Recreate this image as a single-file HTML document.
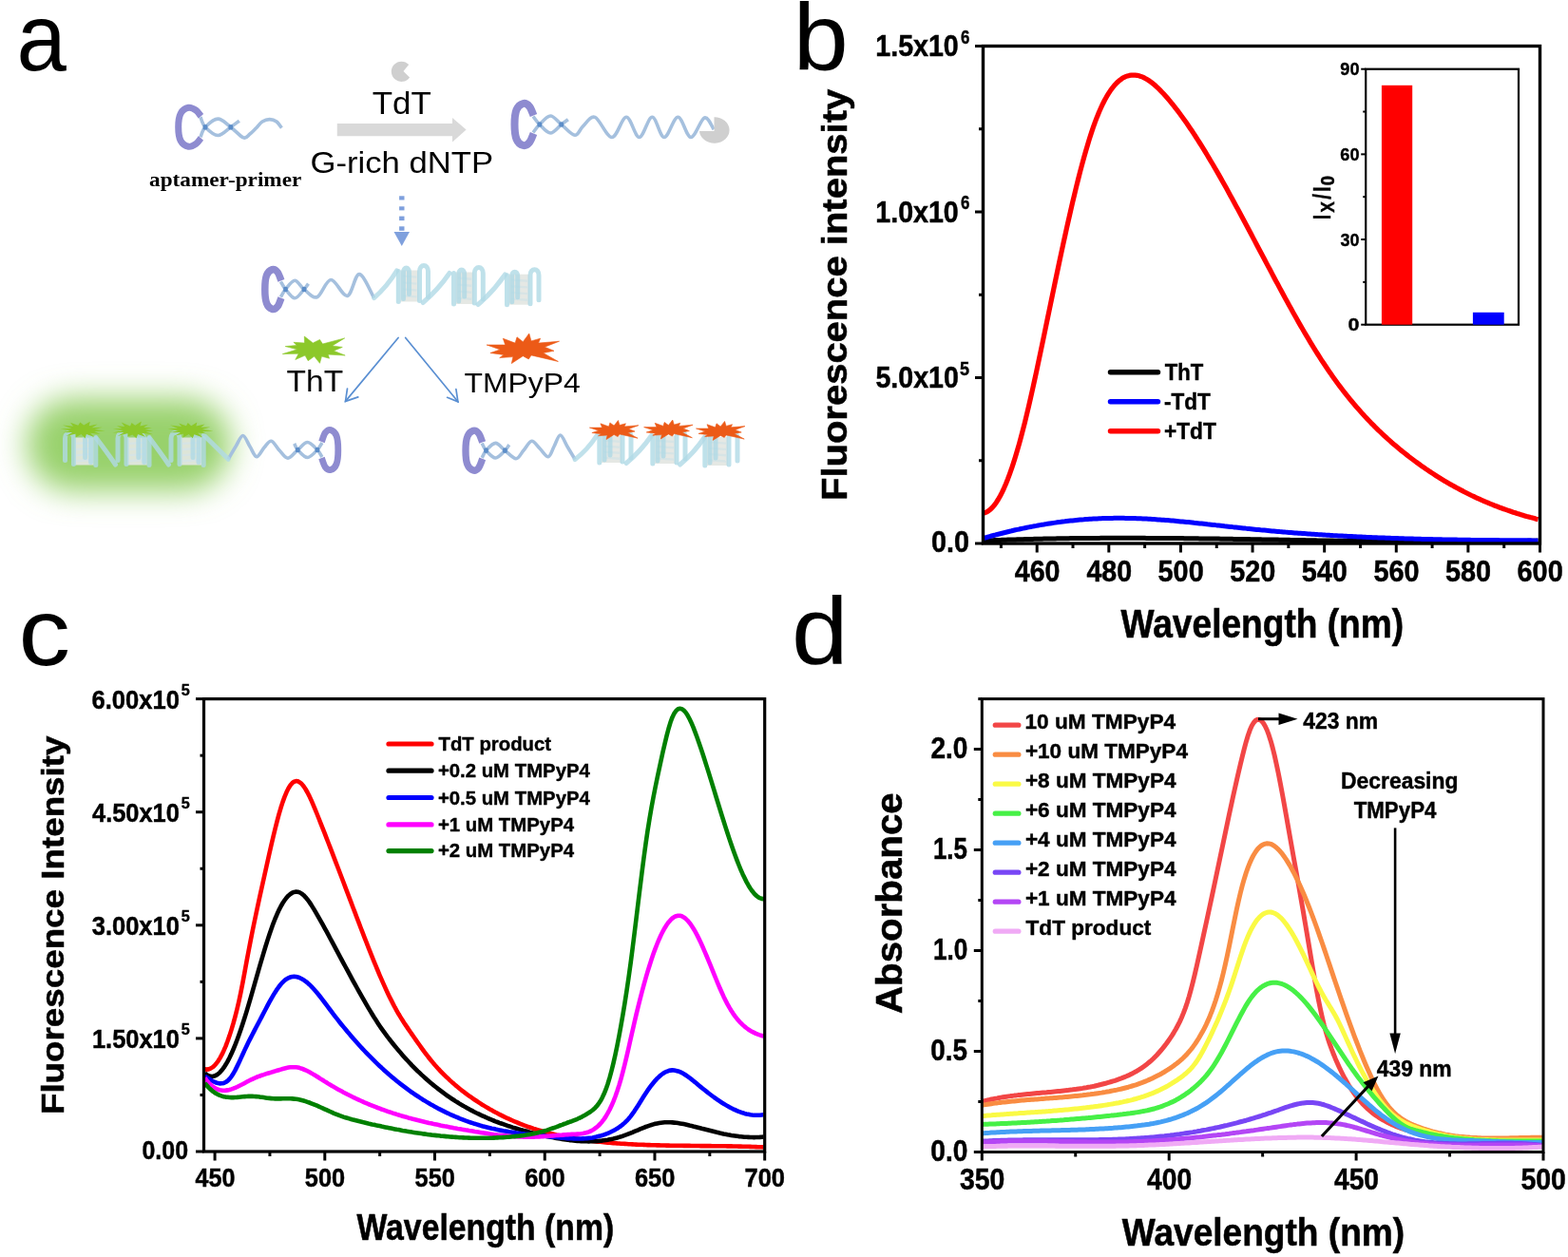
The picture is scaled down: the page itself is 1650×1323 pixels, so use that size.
<!DOCTYPE html>
<html><head><meta charset="utf-8"><title>Figure</title>
<style>html,body{margin:0;padding:0;background:#fff;} svg{display:block;}</style></head>
<body><svg width="1650" height="1323" viewBox="0 0 1650 1323">
<rect width="1650" height="1323" fill="#fff"/>
<defs><filter id="blurg" filterUnits="userSpaceOnUse" x="-60" y="340" width="400" height="260"><feGaussianBlur stdDeviation="16"/></filter></defs>
<rect x="28" y="419" width="215" height="98" rx="49" fill="#98d16c" filter="url(#blurg)"/>
<text x="17.43" y="73.50" font-family='"Liberation Sans", Arial, sans-serif' font-weight="normal" font-size="99.50" fill="#000" textLength="52.38" lengthAdjust="spacingAndGlyphs">a</text>
<path d="M211.5,122.3 C210.6,121.3 208.4,117.7 206.3,116.2 C204.1,114.7 201.1,112.8 198.4,113.3 C195.7,113.8 191.9,116.0 190.1,119.5 C188.3,122.9 187.7,129.0 187.7,133.8 C187.7,138.6 188.3,144.7 190.1,148.2 C191.9,151.6 195.7,153.8 198.4,154.3 C201.1,154.8 204.1,152.9 206.3,151.4 C208.4,149.9 210.6,146.3 211.5,145.3" fill="none" stroke="#8e8bd0" stroke-width="7" stroke-linecap="butt"/>
<path d="M211.0,144.3 C211.8,142.6 212.9,137.0 216.0,133.8 C219.1,130.6 224.9,125.1 229.4,125.1 C233.9,125.1 238.3,130.5 242.8,133.8 C247.3,137.1 252.8,143.7 256.2,144.9 C259.6,146.1 260.8,142.7 263.0,141.0 C265.2,139.3 267.4,136.9 269.6,134.7 C271.8,132.5 273.6,129.5 276.0,128.0 C278.4,126.5 281.2,125.6 283.7,125.6 C286.2,125.6 288.9,126.5 291.0,128.0 C293.1,129.5 295.5,133.6 296.4,134.7" fill="none" stroke="#a5c0de" stroke-width="3.6" stroke-linecap="butt" stroke-linejoin="round" opacity="1"/>
<path d="M211.0,123.3 C211.8,125.1 212.9,130.6 216.0,133.8 C219.1,137.0 224.9,142.5 229.4,142.5 C233.9,142.5 239.1,136.4 242.8,133.8 C246.5,131.2 250.3,128.3 251.8,127.2" fill="none" stroke="#a5c0de" stroke-width="3.6" stroke-linecap="butt" stroke-linejoin="round" opacity="1"/>
<rect x="213.7" y="131.2" width="4.6" height="5.2" rx="1.2" fill="#4f84c4" opacity="0.85"/>
<rect x="240.5" y="131.2" width="4.6" height="5.2" rx="1.2" fill="#4f84c4" opacity="0.85"/>
<text x="157.10" y="195.50" font-family='"Liberation Serif", "Times New Roman", serif' font-weight="bold" font-size="21.50" fill="#000" textLength="160.15" lengthAdjust="spacingAndGlyphs">aptamer-primer</text>
<path d="M424.5,75 L430.2,68.1 A10.6,10.6 0 1 0 431.1,81.4 Z" fill="#cfcfcf"/>
<text x="391.70" y="119.80" font-family='"Liberation Sans", Arial, sans-serif' font-weight="normal" font-size="32.60" fill="#000" textLength="62.10" lengthAdjust="spacingAndGlyphs">TdT</text>
<polygon points="354.8,130 476,130 476,124 490.6,136.6 476,149.4 476,143.3 354.8,143.3" fill="#d9d9d9"/>
<text x="326.47" y="182.10" font-family='"Liberation Sans", Arial, sans-serif' font-weight="normal" font-size="31.60" fill="#000" textLength="192.61" lengthAdjust="spacingAndGlyphs">G-rich dNTP</text>
<path d="M561.5,121.5 C560.8,119.9 558.9,114.2 557.1,112.1 C555.3,110.0 552.8,108.4 550.5,109.0 C548.2,109.6 545.0,111.9 543.5,115.6 C542.0,119.3 541.5,125.9 541.5,131.0 C541.5,136.1 542.0,142.7 543.5,146.4 C545.0,150.1 548.2,152.4 550.5,153.0 C552.8,153.6 555.3,152.0 557.1,149.9 C558.9,147.8 560.8,142.1 561.5,140.5" fill="none" stroke="#8e8bd0" stroke-width="8" stroke-linecap="butt"/>
<path d="M561.0,139.5 C562.1,138.1 564.8,133.9 567.8,131.0 C570.8,128.1 575.4,122.0 579.2,122.0 C583.1,122.0 586.4,127.6 590.7,131.0 C595.0,134.4 601.1,142.0 604.9,142.3 C608.7,142.6 610.0,136.0 613.5,132.8 C617.0,129.7 621.0,121.5 626.1,123.4 C631.2,125.4 638.4,144.5 643.9,144.5 C649.4,144.5 654.3,123.3 659.1,123.3 C663.9,123.3 668.2,144.5 672.7,144.5 C677.2,144.5 681.9,123.3 686.3,123.3 C690.7,123.3 694.5,144.5 699.0,144.5 C703.5,144.5 708.7,123.3 713.4,123.3 C718.1,123.3 722.4,144.4 727.0,144.5 C731.6,144.6 737.3,125.4 741.3,124.0 C745.3,122.6 749.5,134.1 751.1,136.1" fill="none" stroke="#a5c0de" stroke-width="3.6" stroke-linecap="butt" stroke-linejoin="round" opacity="1"/>
<path d="M561.0,122.5 C562.1,123.9 564.8,128.1 567.8,131.0 C570.8,133.9 575.4,140.0 579.2,140.0 C583.1,140.0 587.6,133.4 590.7,131.0 C593.8,128.6 596.6,126.6 597.8,125.7" fill="none" stroke="#a5c0de" stroke-width="3.6" stroke-linecap="butt" stroke-linejoin="round" opacity="1"/>
<rect x="565.5" y="128.4" width="4.6" height="5.2" rx="1.2" fill="#4f84c4" opacity="0.85"/>
<rect x="588.4" y="128.4" width="4.6" height="5.2" rx="1.2" fill="#4f84c4" opacity="0.85"/>
<path d="M751.5,138 L736,138 A15.8,13.8 0 1 0 751.5,123.2 Z" fill="#cfcfcf"/>
<rect x="420.1" y="206.3" width="5.4" height="4.2" fill="#7fa0dd"/>
<rect x="420.1" y="217.3" width="5.4" height="4.1" fill="#7fa0dd"/>
<rect x="420.1" y="227.6" width="5.4" height="4.5" fill="#7fa0dd"/>
<rect x="420.1" y="238.3" width="5.4" height="4.5" fill="#7fa0dd"/>
<polygon points="414.5,244 431,244 422.8,258.9" fill="#7fa0dd"/>
<path d="M295.9,295.4 C295.3,293.9 293.7,288.5 292.1,286.5 C290.6,284.6 288.4,283.0 286.5,283.6 C284.6,284.2 281.8,286.4 280.5,289.9 C279.2,293.4 278.8,299.6 278.8,304.5 C278.8,309.4 279.2,315.6 280.5,319.1 C281.8,322.6 284.6,324.8 286.5,325.4 C288.4,326.0 290.6,324.4 292.1,322.5 C293.7,320.5 295.3,315.1 295.9,313.6" fill="none" stroke="#8e8bd0" stroke-width="7.5" stroke-linecap="butt"/>
<path d="M295.4,312.6 C296.2,311.2 298.0,307.4 300.5,304.5 C303.0,301.6 307.0,295.2 310.2,295.2 C313.5,295.2 316.1,301.6 320.0,304.5 C323.9,307.4 328.9,314.4 333.6,312.7 C338.3,311.0 342.9,294.7 348.2,294.5 C353.5,294.3 360.5,312.4 365.5,311.4 C370.5,310.4 373.5,288.2 378.2,288.6 C382.9,289.0 391.0,309.4 393.6,313.6" fill="none" stroke="#a5c0de" stroke-width="3.6" stroke-linecap="butt" stroke-linejoin="round" opacity="1"/>
<path d="M295.4,296.4 C296.2,297.8 298.0,301.6 300.5,304.5 C303.0,307.4 307.0,313.8 310.2,313.8 C313.5,313.8 317.6,307.0 320.0,304.5 C322.4,302.0 323.8,299.6 324.5,298.6" fill="none" stroke="#a5c0de" stroke-width="3.6" stroke-linecap="butt" stroke-linejoin="round" opacity="1"/>
<rect x="298.2" y="301.9" width="4.6" height="5.2" rx="1.2" fill="#4f84c4" opacity="0.85"/>
<rect x="317.7" y="301.9" width="4.6" height="5.2" rx="1.2" fill="#4f84c4" opacity="0.85"/>
<path d="M393.6,313.6 Q407.6,301.3 417.5,285.0" fill="none" stroke="#b0dae6" stroke-width="5" stroke-linecap="round" opacity="0.8"/>
<rect x="421.5" y="284.5" width="19.0" height="33.0" fill="#e3e6e2" opacity="0.92"/><line x1="423.5" y1="290.4" x2="438.5" y2="291.6" stroke="#d6e4e6" stroke-width="2.4" opacity="0.9"/><line x1="423.5" y1="297.4" x2="438.5" y2="298.6" stroke="#d6e4e6" stroke-width="2.4" opacity="0.9"/><line x1="423.5" y1="304.3" x2="438.5" y2="305.5" stroke="#d6e4e6" stroke-width="2.4" opacity="0.9"/><line x1="423.5" y1="311.2" x2="438.5" y2="312.4" stroke="#d6e4e6" stroke-width="2.4" opacity="0.9"/><g fill="none" stroke="#b0dae6" stroke-width="5" stroke-linecap="round" stroke-linejoin="round" opacity="0.8"><path d="M419.3,285.5 L419.3,317.5"/><path d="M424.5,314.5 L424.5,286.5 C424.5,280.5 430.5,280.5 430.5,286.5 L430.5,309.5"/><path d="M441.5,316.5 L441.5,285.5 C441.5,277.5 450.5,277.5 450.5,285.5 L450.5,312.5"/></g>
<rect x="479.7" y="286.5" width="18.6" height="33.5" fill="#e3e6e2" opacity="0.92"/><line x1="481.7" y1="292.5" x2="496.3" y2="293.7" stroke="#d6e4e6" stroke-width="2.4" opacity="0.9"/><line x1="481.7" y1="299.6" x2="496.3" y2="300.8" stroke="#d6e4e6" stroke-width="2.4" opacity="0.9"/><line x1="481.7" y1="306.6" x2="496.3" y2="307.8" stroke="#d6e4e6" stroke-width="2.4" opacity="0.9"/><line x1="481.7" y1="313.6" x2="496.3" y2="314.8" stroke="#d6e4e6" stroke-width="2.4" opacity="0.9"/><g fill="none" stroke="#b0dae6" stroke-width="5" stroke-linecap="round" stroke-linejoin="round" opacity="0.8"><path d="M477.5,287.5 L477.5,320.0"/><path d="M482.7,317.0 L482.7,288.5 C482.7,282.5 488.7,282.5 488.7,288.5 L488.7,312.0"/><path d="M499.3,319.0 L499.3,287.5 C499.3,279.5 508.3,279.5 508.3,287.5 L508.3,315.0"/></g>
<rect x="535.7" y="288.7" width="21.3" height="32.0" fill="#e3e6e2" opacity="0.92"/><line x1="537.7" y1="294.5" x2="555.0" y2="295.7" stroke="#d6e4e6" stroke-width="2.4" opacity="0.9"/><line x1="537.7" y1="301.2" x2="555.0" y2="302.4" stroke="#d6e4e6" stroke-width="2.4" opacity="0.9"/><line x1="537.7" y1="307.9" x2="555.0" y2="309.1" stroke="#d6e4e6" stroke-width="2.4" opacity="0.9"/><line x1="537.7" y1="314.6" x2="555.0" y2="315.8" stroke="#d6e4e6" stroke-width="2.4" opacity="0.9"/><g fill="none" stroke="#b0dae6" stroke-width="5" stroke-linecap="round" stroke-linejoin="round" opacity="0.8"><path d="M533.5,289.7 L533.5,320.7"/><path d="M538.7,317.7 L538.7,290.7 C538.7,284.7 544.7,284.7 544.7,290.7 L544.7,312.7"/><path d="M558.0,319.7 L558.0,289.7 C558.0,281.7 567.0,281.7 567.0,289.7 L567.0,315.7"/></g>
<path d="M445.0,318.5 Q461.0,305.0 473.0,287.5" fill="none" stroke="#b0dae6" stroke-width="5" stroke-linecap="round" opacity="0.8"/>
<path d="M503.0,320.5 Q519.2,306.8 531.5,289.0" fill="none" stroke="#b0dae6" stroke-width="5" stroke-linecap="round" opacity="0.8"/>
<polygon points="320.3,354.0 329.3,361.0 336.5,357.4 339.5,362.0 362.7,355.9 349.6,363.9 360.3,365.4 351.1,369.2 363.2,374.1 345.3,373.1 346.5,377.2 338.5,375.1 336.5,382.3 330.7,375.1 324.2,379.7 321.0,374.1 310.8,378.5 314.2,372.2 297.3,372.6 312.8,367.8 300.2,364.6 312.3,363.4 308.9,360.3 320.5,361.0" fill="#8cc82a" stroke="#8cc82a" stroke-width="0.6" stroke-linejoin="miter"/>
<text x="301.63" y="411.70" font-family='"Liberation Sans", Arial, sans-serif' font-weight="normal" font-size="32.00" fill="#000" textLength="59.54" lengthAdjust="spacingAndGlyphs">ThT</text>
<polygon points="556.8,351.0 559.0,358.9 568.6,356.2 566.6,361.1 588.5,359.2 573.2,365.2 583.0,369.3 571.6,371.5 587.4,380.5 559.0,373.9 556.3,378.0 550.3,374.7 538.3,382.6 539.9,375.6 525.7,376.6 530.1,373.4 515.9,371.5 526.3,367.9 512.1,363.0 531.7,363.0 529.3,356.2 542.1,361.1 544.0,354.8 550.3,359.7" fill="#ec5a17" stroke="#ec5a17" stroke-width="0.6" stroke-linejoin="miter"/>
<text x="488.56" y="413.20" font-family='"Liberation Sans", Arial, sans-serif' font-weight="normal" font-size="30.00" fill="#000" textLength="122.06" lengthAdjust="spacingAndGlyphs">TMPyP4</text>
<g stroke="#5a8fd2" stroke-width="1.7" fill="none" stroke-linecap="round"><line x1="419.1" y1="355.5" x2="363.5" y2="422.4"/><polyline points="376.8,417.9 363.5,422.4 365.5,409"/><line x1="426.7" y1="355.5" x2="481.9" y2="422.8"/><polyline points="470.6,418.3 481.9,422.8 479.9,409.6"/></g>
<path d="M338.5,465.0 C339.1,463.4 340.7,457.5 342.3,455.4 C343.9,453.4 346.1,451.9 348.0,452.5 C350.0,453.1 352.8,455.3 354.1,458.8 C355.4,462.3 355.8,468.6 355.8,473.5 C355.8,478.4 355.4,484.7 354.1,488.2 C352.8,491.7 350.0,493.9 348.0,494.5 C346.1,495.1 343.9,493.6 342.3,491.6 C340.7,489.5 339.1,483.6 338.5,482.0" fill="none" stroke="#8e8bd0" stroke-width="6.8" stroke-linecap="butt"/>
<path d="M339.0,481.0 C338.1,479.8 336.5,476.1 333.9,473.5 C331.3,470.9 327.0,465.5 323.6,465.5 C320.2,465.5 316.7,470.7 313.3,473.5 C309.9,476.3 306.2,482.1 303.0,482.2 C299.8,482.3 296.9,477.0 294.0,474.0 C291.1,471.0 288.2,464.7 285.5,464.2 C282.8,463.7 280.6,468.2 278.0,471.0 C275.4,473.8 272.5,480.9 270.0,480.7 C267.5,480.5 265.4,473.7 263.0,470.0 C260.6,466.3 258.1,458.5 255.6,458.5 C253.1,458.5 250.6,465.9 248.0,470.0 C245.4,474.1 241.5,481.1 240.2,483.3" fill="none" stroke="#a5c0de" stroke-width="3.6" stroke-linecap="butt" stroke-linejoin="round" opacity="1"/>
<path d="M339.0,466.0 C338.1,467.2 336.5,470.9 333.9,473.5 C331.3,476.1 327.0,481.5 323.6,481.5 C320.2,481.5 315.6,475.9 313.3,473.5 C311.0,471.1 310.3,467.9 309.7,466.8" fill="none" stroke="#a5c0de" stroke-width="3.6" stroke-linecap="butt" stroke-linejoin="round" opacity="1"/>
<rect x="331.6" y="470.9" width="4.6" height="5.2" rx="1.2" fill="#4f84c4" opacity="0.85"/>
<rect x="311.0" y="470.9" width="4.6" height="5.2" rx="1.2" fill="#4f84c4" opacity="0.85"/>
<g transform="translate(177.1,0) scale(-1,1)"><rect x="78.5" y="460.5" width="20.1" height="29.0" fill="#e3e6e2" opacity="0.92"/><line x1="80.5" y1="465.7" x2="96.6" y2="466.9" stroke="#d6e4e6" stroke-width="2.4" opacity="0.9"/><line x1="80.5" y1="471.8" x2="96.6" y2="473.0" stroke="#d6e4e6" stroke-width="2.4" opacity="0.9"/><line x1="80.5" y1="477.9" x2="96.6" y2="479.1" stroke="#d6e4e6" stroke-width="2.4" opacity="0.9"/><line x1="80.5" y1="484.0" x2="96.6" y2="485.2" stroke="#d6e4e6" stroke-width="2.4" opacity="0.9"/><g fill="none" stroke="#b0dae6" stroke-width="5" stroke-linecap="round" stroke-linejoin="round" opacity="0.8"><path d="M76.3,461.5 L76.3,489.5"/><path d="M81.5,486.5 L81.5,462.5 C81.5,456.5 87.5,456.5 87.5,462.5 L87.5,481.5"/><path d="M99.6,488.5 L99.6,461.5 C99.6,453.5 108.6,453.5 108.6,461.5 L108.6,484.5"/></g></g>
<g transform="translate(288.8,0) scale(-1,1)"><rect x="134.0" y="460.5" width="20.8" height="29.0" fill="#e3e6e2" opacity="0.92"/><line x1="136.0" y1="465.7" x2="152.8" y2="466.9" stroke="#d6e4e6" stroke-width="2.4" opacity="0.9"/><line x1="136.0" y1="471.8" x2="152.8" y2="473.0" stroke="#d6e4e6" stroke-width="2.4" opacity="0.9"/><line x1="136.0" y1="477.9" x2="152.8" y2="479.1" stroke="#d6e4e6" stroke-width="2.4" opacity="0.9"/><line x1="136.0" y1="484.0" x2="152.8" y2="485.2" stroke="#d6e4e6" stroke-width="2.4" opacity="0.9"/><g fill="none" stroke="#b0dae6" stroke-width="5" stroke-linecap="round" stroke-linejoin="round" opacity="0.8"><path d="M131.8,461.5 L131.8,489.5"/><path d="M137.0,486.5 L137.0,462.5 C137.0,456.5 143.0,456.5 143.0,462.5 L143.0,481.5"/><path d="M155.8,488.5 L155.8,461.5 C155.8,453.5 164.8,453.5 164.8,461.5 L164.8,484.5"/></g></g>
<g transform="translate(402.0,0) scale(-1,1)"><rect x="190.0" y="460.5" width="22.0" height="29.0" fill="#e3e6e2" opacity="0.92"/><line x1="192.0" y1="465.7" x2="210.0" y2="466.9" stroke="#d6e4e6" stroke-width="2.4" opacity="0.9"/><line x1="192.0" y1="471.8" x2="210.0" y2="473.0" stroke="#d6e4e6" stroke-width="2.4" opacity="0.9"/><line x1="192.0" y1="477.9" x2="210.0" y2="479.1" stroke="#d6e4e6" stroke-width="2.4" opacity="0.9"/><line x1="192.0" y1="484.0" x2="210.0" y2="485.2" stroke="#d6e4e6" stroke-width="2.4" opacity="0.9"/><g fill="none" stroke="#b0dae6" stroke-width="5" stroke-linecap="round" stroke-linejoin="round" opacity="0.8"><path d="M187.8,461.5 L187.8,489.5"/><path d="M193.0,486.5 L193.0,462.5 C193.0,456.5 199.0,456.5 199.0,462.5 L199.0,481.5"/><path d="M213.0,488.5 L213.0,461.5 C213.0,453.5 222.0,453.5 222.0,461.5 L222.0,484.5"/></g></g>
<path d="M100.8,460.5 Q113.2,476.8 121.5,489.0" fill="none" stroke="#b0dae6" stroke-width="5" stroke-linecap="round" opacity="0.8"/>
<path d="M157.0,460.5 Q169.2,476.8 177.5,489.0" fill="none" stroke="#b0dae6" stroke-width="5" stroke-linecap="round" opacity="0.8"/>
<path d="M214.5,458.0 Q229.3,472.6 240.2,483.3" fill="none" stroke="#b0dae6" stroke-width="5" stroke-linecap="round" opacity="0.8"/>
<polygon points="110.9,453.5 99.2,454.1 105.5,457.0 95.2,455.7 98.8,459.7 90.9,456.9 89.5,461.5 85.5,457.0 79.5,460.5 80.1,456.6 69.5,459.1 76.2,455.0 66.6,455.2 73.7,453.1 63.8,451.5 75.6,451.0 66.0,447.6 77.1,448.8 74.0,444.8 82.3,447.7 84.3,444.4 88.2,447.6 94.8,443.7 93.7,448.3 102.6,446.5 96.5,450.2 107.7,449.7 99.5,451.9" fill="#8cc82a"/>
<polygon points="161.3,453.4 153.4,454.2 161.0,457.3 149.2,455.7 152.8,459.7 144.9,456.9 143.5,461.3 139.3,457.5 134.1,459.8 134.8,456.1 123.7,459.0 130.4,455.0 118.3,455.5 129.6,453.0 118.7,451.6 128.5,450.9 122.9,448.2 131.2,448.9 127.7,444.6 137.0,448.4 138.5,444.9 142.2,447.7 148.9,443.6 147.3,448.6 155.7,446.8 151.2,450.0 159.8,450.0 152.5,452.0" fill="#8cc82a"/>
<polygon points="224.6,453.5 212.9,454.2 217.2,456.6 208.1,455.6 212.9,460.3 204.4,457.2 202.7,461.3 198.7,457.0 192.4,460.8 193.2,456.6 183.8,458.7 190.2,454.9 179.1,455.3 187.8,453.0 176.5,451.5 187.0,450.8 179.0,447.5 191.1,449.1 188.1,445.4 196.0,448.2 197.7,444.9 201.2,448.2 207.3,444.5 206.4,448.6 215.5,446.6 211.4,449.8 221.3,449.6 212.6,452.0" fill="#8cc82a"/>
<path d="M507.7,465.5 C507.1,464.0 505.4,458.3 503.8,456.2 C502.2,454.2 500.0,452.7 498.0,453.3 C496.0,453.9 493.1,456.1 491.8,459.6 C490.4,463.1 490.0,469.3 490.0,474.2 C490.0,479.1 490.4,485.3 491.8,488.8 C493.1,492.3 496.0,494.5 498.0,495.1 C500.0,495.7 502.2,494.2 503.8,492.2 C505.4,490.1 507.1,484.4 507.7,482.9" fill="none" stroke="#8e8bd0" stroke-width="7.3" stroke-linecap="butt"/>
<path d="M507.2,481.9 C507.9,480.6 509.1,476.8 511.5,474.2 C513.9,471.6 518.1,466.4 521.5,466.4 C524.8,466.4 527.8,471.5 531.4,474.2 C535.0,476.9 539.7,482.7 543.0,482.7 C546.3,482.7 548.2,477.1 551.0,474.0 C553.8,470.9 556.7,464.5 559.5,464.2 C562.3,463.9 565.1,469.2 568.0,472.0 C570.9,474.8 574.5,481.0 577.0,480.7 C579.5,480.4 580.9,473.8 583.0,470.0 C585.1,466.2 587.3,458.0 589.6,458.0 C591.9,458.0 594.4,465.7 597.0,470.0 C599.6,474.3 603.8,481.3 605.1,483.6" fill="none" stroke="#a5c0de" stroke-width="3.6" stroke-linecap="butt" stroke-linejoin="round" opacity="1"/>
<path d="M507.2,466.5 C507.9,467.8 509.1,471.6 511.5,474.2 C513.9,476.8 518.1,482.0 521.5,482.0 C524.8,482.0 529.0,476.5 531.4,474.2 C533.8,471.9 535.1,469.1 535.8,468.1" fill="none" stroke="#a5c0de" stroke-width="3.6" stroke-linecap="butt" stroke-linejoin="round" opacity="1"/>
<rect x="509.2" y="471.6" width="4.6" height="5.2" rx="1.2" fill="#4f84c4" opacity="0.85"/>
<rect x="529.1" y="471.6" width="4.6" height="5.2" rx="1.2" fill="#4f84c4" opacity="0.85"/>
<path d="M605.1,483.6 Q618.5,473.1 628.0,458.5" fill="none" stroke="#b0dae6" stroke-width="5" stroke-linecap="round" opacity="0.8"/>
<rect x="633.0" y="458.5" width="21.0" height="28.5" fill="#e3e6e2" opacity="0.92"/><line x1="635.0" y1="463.6" x2="652.0" y2="464.8" stroke="#d6e4e6" stroke-width="2.4" opacity="0.9"/><line x1="635.0" y1="469.6" x2="652.0" y2="470.8" stroke="#d6e4e6" stroke-width="2.4" opacity="0.9"/><line x1="635.0" y1="475.6" x2="652.0" y2="476.8" stroke="#d6e4e6" stroke-width="2.4" opacity="0.9"/><line x1="635.0" y1="481.6" x2="652.0" y2="482.8" stroke="#d6e4e6" stroke-width="2.4" opacity="0.9"/><g fill="none" stroke="#b0dae6" stroke-width="5" stroke-linecap="round" stroke-linejoin="round" opacity="0.8"><path d="M630.8,459.5 L630.8,487.0"/><path d="M636.0,484.0 L636.0,460.5 C636.0,454.5 642.0,454.5 642.0,460.5 L642.0,479.0"/><path d="M655.0,486.0 L655.0,459.5 C655.0,451.5 664.0,451.5 664.0,459.5 L664.0,482.0"/></g>
<rect x="689.0" y="458.5" width="22.0" height="29.5" fill="#e3e6e2" opacity="0.92"/><line x1="691.0" y1="463.8" x2="709.0" y2="465.0" stroke="#d6e4e6" stroke-width="2.4" opacity="0.9"/><line x1="691.0" y1="470.0" x2="709.0" y2="471.2" stroke="#d6e4e6" stroke-width="2.4" opacity="0.9"/><line x1="691.0" y1="476.2" x2="709.0" y2="477.4" stroke="#d6e4e6" stroke-width="2.4" opacity="0.9"/><line x1="691.0" y1="482.4" x2="709.0" y2="483.6" stroke="#d6e4e6" stroke-width="2.4" opacity="0.9"/><g fill="none" stroke="#b0dae6" stroke-width="5" stroke-linecap="round" stroke-linejoin="round" opacity="0.8"><path d="M686.8,459.5 L686.8,488.0"/><path d="M692.0,485.0 L692.0,460.5 C692.0,454.5 698.0,454.5 698.0,460.5 L698.0,480.0"/><path d="M712.0,487.0 L712.0,459.5 C712.0,451.5 721.0,451.5 721.0,459.5 L721.0,483.0"/></g>
<rect x="744.0" y="460.0" width="22.0" height="30.0" fill="#e3e6e2" opacity="0.92"/><line x1="746.0" y1="465.4" x2="764.0" y2="466.6" stroke="#d6e4e6" stroke-width="2.4" opacity="0.9"/><line x1="746.0" y1="471.7" x2="764.0" y2="472.9" stroke="#d6e4e6" stroke-width="2.4" opacity="0.9"/><line x1="746.0" y1="478.0" x2="764.0" y2="479.2" stroke="#d6e4e6" stroke-width="2.4" opacity="0.9"/><line x1="746.0" y1="484.3" x2="764.0" y2="485.5" stroke="#d6e4e6" stroke-width="2.4" opacity="0.9"/><g fill="none" stroke="#b0dae6" stroke-width="5" stroke-linecap="round" stroke-linejoin="round" opacity="0.8"><path d="M741.8,461.0 L741.8,490.0"/><path d="M747.0,487.0 L747.0,462.0 C747.0,456.0 753.0,456.0 753.0,462.0 L753.0,482.0"/><path d="M767.0,489.0 L767.0,461.0 C767.0,453.0 776.0,453.0 776.0,461.0 L776.0,485.0"/></g>
<path d="M659.0,487.5 Q674.2,475.0 685.5,458.5" fill="none" stroke="#b0dae6" stroke-width="5" stroke-linecap="round" opacity="0.8"/>
<path d="M715.5,489.0 Q730.5,476.5 741.5,460.0" fill="none" stroke="#b0dae6" stroke-width="5" stroke-linecap="round" opacity="0.8"/>
<polygon points="650.5,442.5 652.0,447.5 658.4,445.8 657.1,448.9 671.9,447.7 661.5,451.5 668.1,454.1 660.5,455.5 671.1,461.2 652.0,457.0 650.1,459.6 646.1,457.5 638.0,462.5 639.1,458.1 629.5,458.7 632.5,456.7 622.9,455.5 629.9,453.2 620.4,450.1 633.6,450.1 631.9,445.8 640.6,448.9 641.9,444.9 646.1,448.0" fill="#ec5a17" stroke="#ec5a17" stroke-width="0.6" stroke-linejoin="miter"/>
<polygon points="707.8,442.0 709.3,447.0 715.7,445.3 714.4,448.4 729.1,447.2 718.8,451.0 725.4,453.6 717.8,455.0 728.4,460.7 709.3,456.5 707.4,459.1 703.4,457.0 695.3,462.0 696.4,457.6 686.8,458.2 689.8,456.2 680.2,455.0 687.2,452.7 677.6,449.6 690.9,449.6 689.2,445.3 697.9,448.4 699.2,444.4 703.4,447.5" fill="#ec5a17" stroke="#ec5a17" stroke-width="0.6" stroke-linejoin="miter"/>
<polygon points="762.6,443.4 764.1,448.4 770.5,446.7 769.2,449.8 784.0,448.6 773.6,452.4 780.2,455.0 772.6,456.4 783.2,462.1 764.1,457.9 762.2,460.5 758.2,458.4 750.1,463.4 751.2,459.0 741.6,459.6 744.6,457.6 735.0,456.4 742.0,454.1 732.5,451.0 745.7,451.0 744.0,446.7 752.7,449.8 754.0,445.8 758.2,448.9" fill="#ec5a17" stroke="#ec5a17" stroke-width="0.6" stroke-linejoin="miter"/>
<text x="834.73" y="74.00" font-family='"Liberation Sans", Arial, sans-serif' font-weight="normal" font-size="100.50" fill="#000" textLength="57.97" lengthAdjust="spacingAndGlyphs">b</text>
<g clip-path="url(#clipb)">
<path d="M1034.5,569.1 L1036.5,569.0 L1038.5,569.0 L1040.5,568.9 L1042.5,568.8 L1044.5,568.7 L1046.5,568.6 L1048.5,568.6 L1050.5,568.5 L1052.5,568.4 L1054.5,568.3 L1056.5,568.3 L1058.5,568.2 L1060.5,568.1 L1062.5,568.1 L1064.5,568.0 L1066.5,567.9 L1068.5,567.9 L1070.5,567.8 L1072.5,567.8 L1074.5,567.7 L1076.5,567.7 L1078.5,567.6 L1080.5,567.5 L1082.5,567.5 L1084.5,567.4 L1086.5,567.4 L1088.5,567.3 L1090.5,567.3 L1092.5,567.2 L1094.5,567.2 L1096.5,567.2 L1098.5,567.1 L1100.5,567.1 L1102.5,567.0 L1104.5,567.0 L1106.5,567.0 L1108.5,566.9 L1110.5,566.9 L1112.5,566.8 L1114.5,566.8 L1116.5,566.8 L1118.5,566.7 L1120.5,566.7 L1122.5,566.7 L1124.5,566.7 L1126.5,566.6 L1128.5,566.6 L1130.5,566.6 L1132.5,566.6 L1134.5,566.5 L1136.5,566.5 L1138.5,566.5 L1140.5,566.5 L1142.5,566.5 L1144.5,566.4 L1146.5,566.4 L1148.5,566.4 L1150.5,566.4 L1152.5,566.4 L1154.5,566.4 L1156.5,566.4 L1158.5,566.3 L1160.5,566.3 L1162.5,566.3 L1164.5,566.3 L1166.5,566.3 L1168.5,566.3 L1170.5,566.3 L1172.5,566.3 L1174.5,566.3 L1176.5,566.3 L1178.5,566.3 L1180.5,566.3 L1182.5,566.3 L1184.5,566.3 L1186.5,566.3 L1188.5,566.3 L1190.5,566.3 L1192.5,566.3 L1194.5,566.3 L1196.5,566.3 L1198.5,566.3 L1200.5,566.3 L1202.5,566.3 L1204.5,566.3 L1206.5,566.4 L1208.5,566.4 L1210.5,566.4 L1212.5,566.4 L1214.5,566.4 L1216.5,566.4 L1218.5,566.4 L1220.5,566.4 L1222.5,566.4 L1224.5,566.5 L1226.5,566.5 L1228.5,566.5 L1230.5,566.5 L1232.5,566.5 L1234.5,566.5 L1236.5,566.6 L1238.5,566.6 L1240.5,566.6 L1242.5,566.6 L1244.5,566.6 L1246.5,566.7 L1248.5,566.7 L1250.5,566.7 L1252.5,566.7 L1254.5,566.8 L1256.5,566.8 L1258.5,566.8 L1260.5,566.8 L1262.5,566.9 L1264.5,566.9 L1266.5,566.9 L1268.5,566.9 L1270.5,567.0 L1272.5,567.0 L1274.5,567.0 L1276.5,567.0 L1278.5,567.1 L1280.5,567.1 L1282.5,567.1 L1284.5,567.2 L1286.5,567.2 L1288.5,567.2 L1290.5,567.2 L1292.5,567.3 L1294.5,567.3 L1296.5,567.3 L1298.5,567.4 L1300.5,567.4 L1302.5,567.4 L1304.5,567.5 L1306.5,567.5 L1308.5,567.5 L1310.5,567.6 L1312.5,567.6 L1314.5,567.6 L1316.5,567.7 L1318.5,567.7 L1320.5,567.7 L1322.5,567.8 L1324.5,567.8 L1326.5,567.8 L1328.5,567.9 L1330.5,567.9 L1332.5,567.9 L1334.5,568.0 L1336.5,568.0 L1338.5,568.0 L1340.5,568.1 L1342.5,568.1 L1344.5,568.1 L1346.5,568.2 L1348.5,568.2 L1350.5,568.2 L1352.5,568.3 L1354.5,568.3 L1356.5,568.3 L1358.5,568.4 L1360.5,568.4 L1362.5,568.4 L1364.5,568.5 L1366.5,568.5 L1368.5,568.6 L1370.5,568.6 L1372.5,568.6 L1374.5,568.7 L1376.5,568.7 L1378.5,568.7 L1380.5,568.8 L1382.5,568.8 L1384.5,568.8 L1386.5,568.9 L1388.5,568.9 L1390.5,568.9 L1392.5,569.0 L1394.5,569.0 L1396.5,569.0 L1398.5,569.1 L1400.5,569.1 L1402.5,569.1 L1404.5,569.2 L1406.5,569.2 L1408.5,569.2 L1410.5,569.2 L1412.5,569.3 L1414.5,569.3 L1416.5,569.3 L1418.5,569.4 L1420.5,569.4 L1422.5,569.4 L1424.5,569.5 L1426.5,569.5 L1428.5,569.5 L1430.5,569.5 L1432.5,569.6 L1434.5,569.6 L1436.5,569.6 L1438.5,569.6 L1440.5,569.7 L1442.5,569.7 L1444.5,569.7 L1446.5,569.7 L1448.5,569.8 L1450.5,569.8 L1452.5,569.8 L1454.5,569.8 L1456.5,569.9 L1458.5,569.9 L1460.5,569.9 L1462.5,569.9 L1464.5,569.9 L1466.5,570.0 L1468.5,570.0 L1470.5,570.0 L1472.5,570.0 L1474.5,570.0 L1476.5,570.0 L1478.5,570.1 L1480.5,570.1 L1482.5,570.1 L1484.5,570.1 L1486.5,570.1 L1488.5,570.1 L1490.5,570.1 L1492.5,570.2 L1494.5,570.2 L1496.5,570.2 L1498.5,570.2 L1500.5,570.2 L1502.5,570.2 L1504.5,570.2 L1506.5,570.2 L1508.5,570.2 L1510.5,570.2 L1512.5,570.2 L1514.5,570.2 L1516.5,570.2 L1518.5,570.2 L1520.5,570.2 L1522.5,570.2 L1524.5,570.2 L1526.5,570.2 L1528.5,570.2 L1530.5,570.2 L1532.5,570.2 L1534.5,570.2 L1536.5,570.2 L1538.5,570.2 L1540.5,570.2 L1542.5,570.2 L1544.5,570.2 L1546.5,570.2 L1548.5,570.2 L1550.5,570.1 L1552.5,570.1 L1554.5,570.1 L1556.5,570.1 L1558.5,570.1 L1560.5,570.1 L1562.5,570.1 L1564.5,570.0 L1566.5,570.0 L1568.5,570.0 L1570.5,570.0 L1572.5,570.0 L1574.5,569.9 L1576.5,569.9 L1578.5,569.9 L1580.5,569.8 L1582.5,569.8 L1584.5,569.8 L1586.5,569.8 L1588.5,569.7 L1590.5,569.7 L1592.5,569.7 L1594.5,569.6 L1596.5,569.6 L1598.5,569.6 L1600.5,569.5 L1602.5,569.5 L1604.5,569.4 L1606.5,569.4 L1608.5,569.3 L1610.5,569.3 L1612.5,569.3 L1614.5,569.2 L1616.5,569.2 L1618.5,569.1" fill="none" stroke="#000" stroke-width="5" stroke-linejoin="round" stroke-linecap="butt"/>
<path d="M1034.5,566.6 L1036.5,566.0 L1038.5,565.5 L1040.5,564.9 L1042.5,564.3 L1044.5,563.8 L1046.5,563.3 L1048.5,562.7 L1050.5,562.2 L1052.5,561.7 L1054.5,561.2 L1056.5,560.7 L1058.5,560.2 L1060.5,559.7 L1062.5,559.2 L1064.5,558.8 L1066.5,558.3 L1068.5,557.8 L1070.5,557.4 L1072.5,557.0 L1074.5,556.5 L1076.5,556.1 L1078.5,555.7 L1080.5,555.3 L1082.5,554.9 L1084.5,554.5 L1086.5,554.1 L1088.5,553.7 L1090.5,553.4 L1092.5,553.0 L1094.5,552.6 L1096.5,552.3 L1098.5,552.0 L1100.5,551.6 L1102.5,551.3 L1104.5,551.0 L1106.5,550.7 L1108.5,550.4 L1110.5,550.1 L1112.5,549.8 L1114.5,549.6 L1116.5,549.3 L1118.5,549.0 L1120.5,548.8 L1122.5,548.5 L1124.5,548.3 L1126.5,548.1 L1128.5,547.9 L1130.5,547.7 L1132.5,547.5 L1134.5,547.3 L1136.5,547.1 L1138.5,546.9 L1140.5,546.8 L1142.5,546.6 L1144.5,546.5 L1146.5,546.3 L1148.5,546.2 L1150.5,546.1 L1152.5,546.0 L1154.5,545.9 L1156.5,545.8 L1158.5,545.7 L1160.5,545.6 L1162.5,545.5 L1164.5,545.5 L1166.5,545.4 L1168.5,545.4 L1170.5,545.4 L1172.5,545.3 L1174.5,545.3 L1176.5,545.3 L1178.5,545.3 L1180.5,545.3 L1182.5,545.3 L1184.5,545.4 L1186.5,545.4 L1188.5,545.4 L1190.5,545.5 L1192.5,545.5 L1194.5,545.6 L1196.5,545.7 L1198.5,545.8 L1200.5,545.8 L1202.5,545.9 L1204.5,546.0 L1206.5,546.1 L1208.5,546.2 L1210.5,546.3 L1212.5,546.5 L1214.5,546.6 L1216.5,546.7 L1218.5,546.9 L1220.5,547.0 L1222.5,547.2 L1224.5,547.3 L1226.5,547.5 L1228.5,547.6 L1230.5,547.8 L1232.5,548.0 L1234.5,548.1 L1236.5,548.3 L1238.5,548.5 L1240.5,548.7 L1242.5,548.9 L1244.5,549.0 L1246.5,549.2 L1248.5,549.4 L1250.5,549.6 L1252.5,549.8 L1254.5,550.0 L1256.5,550.3 L1258.5,550.5 L1260.5,550.7 L1262.5,550.9 L1264.5,551.1 L1266.5,551.3 L1268.5,551.5 L1270.5,551.8 L1272.5,552.0 L1274.5,552.2 L1276.5,552.4 L1278.5,552.6 L1280.5,552.9 L1282.5,553.1 L1284.5,553.3 L1286.5,553.5 L1288.5,553.8 L1290.5,554.0 L1292.5,554.2 L1294.5,554.4 L1296.5,554.6 L1298.5,554.9 L1300.5,555.1 L1302.5,555.3 L1304.5,555.5 L1306.5,555.7 L1308.5,555.9 L1310.5,556.1 L1312.5,556.4 L1314.5,556.6 L1316.5,556.8 L1318.5,557.0 L1320.5,557.2 L1322.5,557.4 L1324.5,557.6 L1326.5,557.8 L1328.5,557.9 L1330.5,558.1 L1332.5,558.3 L1334.5,558.5 L1336.5,558.7 L1338.5,558.9 L1340.5,559.0 L1342.5,559.2 L1344.5,559.4 L1346.5,559.6 L1348.5,559.7 L1350.5,559.9 L1352.5,560.1 L1354.5,560.2 L1356.5,560.4 L1358.5,560.5 L1360.5,560.7 L1362.5,560.9 L1364.5,561.0 L1366.5,561.2 L1368.5,561.3 L1370.5,561.5 L1372.5,561.6 L1374.5,561.7 L1376.5,561.9 L1378.5,562.0 L1380.5,562.2 L1382.5,562.3 L1384.5,562.4 L1386.5,562.6 L1388.5,562.7 L1390.5,562.8 L1392.5,562.9 L1394.5,563.1 L1396.5,563.2 L1398.5,563.3 L1400.5,563.4 L1402.5,563.6 L1404.5,563.7 L1406.5,563.8 L1408.5,563.9 L1410.5,564.0 L1412.5,564.1 L1414.5,564.2 L1416.5,564.3 L1418.5,564.4 L1420.5,564.5 L1422.5,564.6 L1424.5,564.7 L1426.5,564.8 L1428.5,564.9 L1430.5,565.0 L1432.5,565.1 L1434.5,565.2 L1436.5,565.3 L1438.5,565.4 L1440.5,565.5 L1442.5,565.6 L1444.5,565.7 L1446.5,565.7 L1448.5,565.8 L1450.5,565.9 L1452.5,566.0 L1454.5,566.1 L1456.5,566.1 L1458.5,566.2 L1460.5,566.3 L1462.5,566.3 L1464.5,566.4 L1466.5,566.5 L1468.5,566.6 L1470.5,566.6 L1472.5,566.7 L1474.5,566.8 L1476.5,566.8 L1478.5,566.9 L1480.5,566.9 L1482.5,567.0 L1484.5,567.1 L1486.5,567.1 L1488.5,567.2 L1490.5,567.2 L1492.5,567.3 L1494.5,567.3 L1496.5,567.4 L1498.5,567.4 L1500.5,567.5 L1502.5,567.5 L1504.5,567.6 L1506.5,567.6 L1508.5,567.7 L1510.5,567.7 L1512.5,567.7 L1514.5,567.8 L1516.5,567.8 L1518.5,567.9 L1520.5,567.9 L1522.5,567.9 L1524.5,568.0 L1526.5,568.0 L1528.5,568.1 L1530.5,568.1 L1532.5,568.1 L1534.5,568.2 L1536.5,568.2 L1538.5,568.2 L1540.5,568.2 L1542.5,568.3 L1544.5,568.3 L1546.5,568.3 L1548.5,568.4 L1550.5,568.4 L1552.5,568.4 L1554.5,568.4 L1556.5,568.5 L1558.5,568.5 L1560.5,568.5 L1562.5,568.5 L1564.5,568.5 L1566.5,568.6 L1568.5,568.6 L1570.5,568.6 L1572.5,568.6 L1574.5,568.6 L1576.5,568.6 L1578.5,568.7 L1580.5,568.7 L1582.5,568.7 L1584.5,568.7 L1586.5,568.7 L1588.5,568.7 L1590.5,568.7 L1592.5,568.8 L1594.5,568.8 L1596.5,568.8 L1598.5,568.8 L1600.5,568.8 L1602.5,568.8 L1604.5,568.8 L1606.5,568.8 L1608.5,568.8 L1610.5,568.8 L1612.5,568.9 L1614.5,568.9 L1616.5,568.9 L1618.5,568.9" fill="none" stroke="#0000ff" stroke-width="5" stroke-linejoin="round" stroke-linecap="butt"/>
<path d="M1034.5,540.0 L1036.5,539.6 L1038.5,538.8 L1040.5,537.5 L1042.5,535.9 L1044.5,533.9 L1046.5,531.5 L1048.5,528.7 L1050.5,525.5 L1052.5,522.0 L1054.5,518.1 L1056.5,513.8 L1058.5,509.2 L1060.5,504.2 L1062.5,498.8 L1064.5,493.2 L1066.5,487.1 L1068.5,480.8 L1070.5,474.1 L1072.5,467.1 L1074.5,459.8 L1076.5,452.2 L1078.5,444.3 L1080.5,436.0 L1082.5,427.6 L1084.5,418.9 L1086.5,410.0 L1088.5,400.9 L1090.5,391.7 L1092.5,382.3 L1094.5,372.8 L1096.5,363.3 L1098.5,353.7 L1100.5,344.0 L1102.5,334.4 L1104.5,324.7 L1106.5,315.1 L1108.5,305.5 L1110.5,295.9 L1112.5,286.4 L1114.5,276.9 L1116.5,267.5 L1118.5,258.2 L1120.5,249.1 L1122.5,240.0 L1124.5,231.1 L1126.5,222.3 L1128.5,213.7 L1130.5,205.3 L1132.5,197.0 L1134.5,189.0 L1136.5,181.2 L1138.5,173.6 L1140.5,166.2 L1142.5,159.2 L1144.5,152.4 L1146.5,145.8 L1148.5,139.6 L1150.5,133.7 L1152.5,128.2 L1154.5,122.9 L1156.5,118.0 L1158.5,113.5 L1160.5,109.2 L1162.5,105.3 L1164.5,101.7 L1166.5,98.4 L1168.5,95.3 L1170.5,92.6 L1172.5,90.1 L1174.5,87.9 L1176.5,86.0 L1178.5,84.3 L1180.5,82.8 L1182.5,81.6 L1184.5,80.7 L1186.5,79.9 L1188.5,79.4 L1190.5,79.1 L1192.5,79.0 L1194.5,79.1 L1196.5,79.3 L1198.5,79.8 L1200.5,80.4 L1202.5,81.2 L1204.5,82.2 L1206.5,83.3 L1208.5,84.5 L1210.5,85.9 L1212.5,87.4 L1214.5,89.0 L1216.5,90.8 L1218.5,92.7 L1220.5,94.6 L1222.5,96.7 L1224.5,98.8 L1226.5,101.0 L1228.5,103.3 L1230.5,105.7 L1232.5,108.1 L1234.5,110.5 L1236.5,113.1 L1238.5,115.6 L1240.5,118.3 L1242.5,121.0 L1244.5,123.7 L1246.5,126.5 L1248.5,129.3 L1250.5,132.2 L1252.5,135.2 L1254.5,138.1 L1256.5,141.2 L1258.5,144.2 L1260.5,147.3 L1262.5,150.5 L1264.5,153.7 L1266.5,156.9 L1268.5,160.2 L1270.5,163.5 L1272.5,166.8 L1274.5,170.2 L1276.5,173.5 L1278.5,177.0 L1280.5,180.4 L1282.5,183.9 L1284.5,187.4 L1286.5,191.0 L1288.5,194.5 L1290.5,198.1 L1292.5,201.7 L1294.5,205.4 L1296.5,209.0 L1298.5,212.7 L1300.5,216.4 L1302.5,220.1 L1304.5,223.8 L1306.5,227.5 L1308.5,231.2 L1310.5,235.0 L1312.5,238.8 L1314.5,242.5 L1316.5,246.3 L1318.5,250.1 L1320.5,253.9 L1322.5,257.7 L1324.5,261.4 L1326.5,265.2 L1328.5,269.0 L1330.5,272.8 L1332.5,276.6 L1334.5,280.4 L1336.5,284.1 L1338.5,287.9 L1340.5,291.7 L1342.5,295.4 L1344.5,299.1 L1346.5,302.9 L1348.5,306.6 L1350.5,310.3 L1352.5,313.9 L1354.5,317.6 L1356.5,321.2 L1358.5,324.8 L1360.5,328.4 L1362.5,332.0 L1364.5,335.6 L1366.5,339.1 L1368.5,342.6 L1370.5,346.0 L1372.5,349.5 L1374.5,352.9 L1376.5,356.2 L1378.5,359.6 L1380.5,362.9 L1382.5,366.1 L1384.5,369.3 L1386.5,372.5 L1388.5,375.7 L1390.5,378.8 L1392.5,381.8 L1394.5,384.8 L1396.5,387.8 L1398.5,390.7 L1400.5,393.6 L1402.5,396.4 L1404.5,399.2 L1406.5,402.0 L1408.5,404.7 L1410.5,407.4 L1412.5,410.0 L1414.5,412.6 L1416.5,415.1 L1418.5,417.6 L1420.5,420.1 L1422.5,422.5 L1424.5,424.9 L1426.5,427.2 L1428.5,429.6 L1430.5,431.8 L1432.5,434.1 L1434.5,436.3 L1436.5,438.5 L1438.5,440.6 L1440.5,442.7 L1442.5,444.8 L1444.5,446.8 L1446.5,448.9 L1448.5,450.8 L1450.5,452.8 L1452.5,454.7 L1454.5,456.6 L1456.5,458.5 L1458.5,460.3 L1460.5,462.1 L1462.5,463.9 L1464.5,465.7 L1466.5,467.4 L1468.5,469.1 L1470.5,470.8 L1472.5,472.5 L1474.5,474.1 L1476.5,475.7 L1478.5,477.3 L1480.5,478.9 L1482.5,480.5 L1484.5,482.0 L1486.5,483.5 L1488.5,485.0 L1490.5,486.5 L1492.5,487.9 L1494.5,489.4 L1496.5,490.8 L1498.5,492.2 L1500.5,493.6 L1502.5,494.9 L1504.5,496.3 L1506.5,497.6 L1508.5,498.9 L1510.5,500.2 L1512.5,501.5 L1514.5,502.7 L1516.5,504.0 L1518.5,505.2 L1520.5,506.4 L1522.5,507.6 L1524.5,508.7 L1526.5,509.9 L1528.5,511.0 L1530.5,512.1 L1532.5,513.2 L1534.5,514.3 L1536.5,515.4 L1538.5,516.4 L1540.5,517.5 L1542.5,518.5 L1544.5,519.5 L1546.5,520.5 L1548.5,521.5 L1550.5,522.4 L1552.5,523.4 L1554.5,524.3 L1556.5,525.2 L1558.5,526.1 L1560.5,527.0 L1562.5,527.8 L1564.5,528.7 L1566.5,529.5 L1568.5,530.4 L1570.5,531.2 L1572.5,532.0 L1574.5,532.7 L1576.5,533.5 L1578.5,534.3 L1580.5,535.0 L1582.5,535.7 L1584.5,536.4 L1586.5,537.1 L1588.5,537.8 L1590.5,538.5 L1592.5,539.2 L1594.5,539.8 L1596.5,540.5 L1598.5,541.1 L1600.5,541.7 L1602.5,542.3 L1604.5,542.9 L1606.5,543.5 L1608.5,544.0 L1610.5,544.6 L1612.5,545.1 L1614.5,545.6 L1616.5,546.2 L1618.5,546.7" fill="none" stroke="#ff0000" stroke-width="5.2" stroke-linejoin="round" stroke-linecap="butt"/>
</g>
<clipPath id="clipb"><rect x="1034.5" y="48.5" width="586.0" height="523.5"/></clipPath>
<rect x="1034.5" y="48.5" width="586.0" height="523.5" fill="none" stroke="#000" stroke-width="3.4"/>
<line x1="1026.00" y1="572.00" x2="1034.50" y2="572.00" stroke="#000" stroke-width="3" stroke-linecap="butt"/>
<line x1="1026.00" y1="397.50" x2="1034.50" y2="397.50" stroke="#000" stroke-width="3" stroke-linecap="butt"/>
<line x1="1026.00" y1="223.00" x2="1034.50" y2="223.00" stroke="#000" stroke-width="3" stroke-linecap="butt"/>
<line x1="1026.00" y1="48.50" x2="1034.50" y2="48.50" stroke="#000" stroke-width="3" stroke-linecap="butt"/>
<line x1="1030.00" y1="484.75" x2="1034.50" y2="484.75" stroke="#000" stroke-width="3" stroke-linecap="butt"/>
<line x1="1030.00" y1="310.25" x2="1034.50" y2="310.25" stroke="#000" stroke-width="3" stroke-linecap="butt"/>
<line x1="1030.00" y1="135.75" x2="1034.50" y2="135.75" stroke="#000" stroke-width="3" stroke-linecap="butt"/>
<line x1="1091.21" y1="572.00" x2="1091.21" y2="581.50" stroke="#000" stroke-width="3" stroke-linecap="butt"/>
<line x1="1166.82" y1="572.00" x2="1166.82" y2="581.50" stroke="#000" stroke-width="3" stroke-linecap="butt"/>
<line x1="1242.44" y1="572.00" x2="1242.44" y2="581.50" stroke="#000" stroke-width="3" stroke-linecap="butt"/>
<line x1="1318.05" y1="572.00" x2="1318.05" y2="581.50" stroke="#000" stroke-width="3" stroke-linecap="butt"/>
<line x1="1393.66" y1="572.00" x2="1393.66" y2="581.50" stroke="#000" stroke-width="3" stroke-linecap="butt"/>
<line x1="1469.27" y1="572.00" x2="1469.27" y2="581.50" stroke="#000" stroke-width="3" stroke-linecap="butt"/>
<line x1="1544.89" y1="572.00" x2="1544.89" y2="581.50" stroke="#000" stroke-width="3" stroke-linecap="butt"/>
<line x1="1620.50" y1="572.00" x2="1620.50" y2="581.50" stroke="#000" stroke-width="3" stroke-linecap="butt"/>
<line x1="1053.40" y1="572.00" x2="1053.40" y2="577.00" stroke="#000" stroke-width="3" stroke-linecap="butt"/>
<line x1="1129.02" y1="572.00" x2="1129.02" y2="577.00" stroke="#000" stroke-width="3" stroke-linecap="butt"/>
<line x1="1204.63" y1="572.00" x2="1204.63" y2="577.00" stroke="#000" stroke-width="3" stroke-linecap="butt"/>
<line x1="1280.24" y1="572.00" x2="1280.24" y2="577.00" stroke="#000" stroke-width="3" stroke-linecap="butt"/>
<line x1="1355.85" y1="572.00" x2="1355.85" y2="577.00" stroke="#000" stroke-width="3" stroke-linecap="butt"/>
<line x1="1431.47" y1="572.00" x2="1431.47" y2="577.00" stroke="#000" stroke-width="3" stroke-linecap="butt"/>
<line x1="1507.08" y1="572.00" x2="1507.08" y2="577.00" stroke="#000" stroke-width="3" stroke-linecap="butt"/>
<line x1="1582.69" y1="572.00" x2="1582.69" y2="577.00" stroke="#000" stroke-width="3" stroke-linecap="butt"/>
<text x="921.28" y="59.10" font-family='"Liberation Sans", Arial, sans-serif' font-weight="bold" font-size="32.20" fill="#000" textLength="87.52" lengthAdjust="spacingAndGlyphs" stroke="#000" stroke-width="0.51">1.5x10</text>
<text x="1010.91" y="45.80" font-family='"Liberation Sans", Arial, sans-serif' font-weight="bold" font-size="21.00" fill="#000" textLength="9.40" lengthAdjust="spacingAndGlyphs" stroke="#000" stroke-width="0.41">6</text>
<text x="921.28" y="233.60" font-family='"Liberation Sans", Arial, sans-serif' font-weight="bold" font-size="32.20" fill="#000" textLength="87.52" lengthAdjust="spacingAndGlyphs" stroke="#000" stroke-width="0.51">1.0x10</text>
<text x="1010.91" y="220.30" font-family='"Liberation Sans", Arial, sans-serif' font-weight="bold" font-size="21.00" fill="#000" textLength="9.40" lengthAdjust="spacingAndGlyphs" stroke="#000" stroke-width="0.41">6</text>
<text x="921.44" y="408.10" font-family='"Liberation Sans", Arial, sans-serif' font-weight="bold" font-size="32.20" fill="#000" textLength="87.36" lengthAdjust="spacingAndGlyphs" stroke="#000" stroke-width="0.51">5.0x10</text>
<text x="1010.05" y="394.80" font-family='"Liberation Sans", Arial, sans-serif' font-weight="bold" font-size="21.00" fill="#000" textLength="10.12" lengthAdjust="spacingAndGlyphs" stroke="#000" stroke-width="0.41">5</text>
<text x="979.95" y="581.00" font-family='"Liberation Sans", Arial, sans-serif' font-weight="bold" font-size="31.30" fill="#000" textLength="40.01" lengthAdjust="spacingAndGlyphs" stroke="#000" stroke-width="0.50">0.0</text>
<text x="1067.78" y="612.00" font-family='"Liberation Sans", Arial, sans-serif' font-weight="bold" font-size="31.00" fill="#000" textLength="47.67" lengthAdjust="spacingAndGlyphs" stroke="#000" stroke-width="0.50">460</text>
<text x="1143.39" y="612.00" font-family='"Liberation Sans", Arial, sans-serif' font-weight="bold" font-size="31.00" fill="#000" textLength="47.67" lengthAdjust="spacingAndGlyphs" stroke="#000" stroke-width="0.50">480</text>
<text x="1218.57" y="612.00" font-family='"Liberation Sans", Arial, sans-serif' font-weight="bold" font-size="31.00" fill="#000" textLength="48.12" lengthAdjust="spacingAndGlyphs" stroke="#000" stroke-width="0.50">500</text>
<text x="1294.18" y="612.00" font-family='"Liberation Sans", Arial, sans-serif' font-weight="bold" font-size="31.00" fill="#000" textLength="48.12" lengthAdjust="spacingAndGlyphs" stroke="#000" stroke-width="0.50">520</text>
<text x="1369.80" y="612.00" font-family='"Liberation Sans", Arial, sans-serif' font-weight="bold" font-size="31.00" fill="#000" textLength="48.12" lengthAdjust="spacingAndGlyphs" stroke="#000" stroke-width="0.50">540</text>
<text x="1445.41" y="612.00" font-family='"Liberation Sans", Arial, sans-serif' font-weight="bold" font-size="31.00" fill="#000" textLength="48.12" lengthAdjust="spacingAndGlyphs" stroke="#000" stroke-width="0.50">560</text>
<text x="1521.02" y="612.00" font-family='"Liberation Sans", Arial, sans-serif' font-weight="bold" font-size="31.00" fill="#000" textLength="48.12" lengthAdjust="spacingAndGlyphs" stroke="#000" stroke-width="0.50">580</text>
<text x="1596.49" y="612.00" font-family='"Liberation Sans", Arial, sans-serif' font-weight="bold" font-size="31.00" fill="#000" textLength="48.27" lengthAdjust="spacingAndGlyphs" stroke="#000" stroke-width="0.50">600</text>
<text x="1179.60" y="671.10" font-family='"Liberation Sans", Arial, sans-serif' font-weight="bold" font-size="41.70" fill="#000" textLength="297.51" lengthAdjust="spacingAndGlyphs" stroke="#000" stroke-width="0.58">Wavelength (nm)</text>
<text transform="translate(891.20,524.40) rotate(-90)" x="-2.60" y="0" font-family='"Liberation Sans", Arial, sans-serif' font-weight="bold" font-size="37.50" fill="#000" textLength="433.19" lengthAdjust="spacingAndGlyphs" stroke="#000" stroke-width="0.55">Fluorescence intensity</text>
<line x1="1168.50" y1="391.80" x2="1218.50" y2="391.80" stroke="#000" stroke-width="5.5" stroke-linecap="round"/>
<text x="1225.68" y="400.00" font-family='"Liberation Sans", Arial, sans-serif' font-weight="bold" font-size="24.40" fill="#000" textLength="40.50" lengthAdjust="spacingAndGlyphs" stroke="#000" stroke-width="0.44">ThT</text>
<line x1="1168.50" y1="422.80" x2="1218.50" y2="422.80" stroke="#0000ff" stroke-width="5.5" stroke-linecap="round"/>
<text x="1225.00" y="431.00" font-family='"Liberation Sans", Arial, sans-serif' font-weight="bold" font-size="24.40" fill="#000" textLength="48.84" lengthAdjust="spacingAndGlyphs" stroke="#000" stroke-width="0.44">-TdT</text>
<line x1="1168.50" y1="453.80" x2="1218.50" y2="453.80" stroke="#ff0000" stroke-width="5.5" stroke-linecap="round"/>
<text x="1224.99" y="462.00" font-family='"Liberation Sans", Arial, sans-serif' font-weight="bold" font-size="24.40" fill="#000" textLength="54.77" lengthAdjust="spacingAndGlyphs" stroke="#000" stroke-width="0.44">+TdT</text>
<rect x="1437.2" y="72.7" width="160.79999999999995" height="269.0" fill="#fff" stroke="#000" stroke-width="2.2"/>
<rect x="1453.9" y="89.8" width="32.3" height="251.89999999999998" fill="#ff0000"/>
<rect x="1549.9" y="328.8" width="32.8" height="12.899999999999977" fill="#0000ff"/>
<line x1="1432.20" y1="341.70" x2="1437.20" y2="341.70" stroke="#000" stroke-width="2" stroke-linecap="butt"/>
<line x1="1432.20" y1="252.03" x2="1437.20" y2="252.03" stroke="#000" stroke-width="2" stroke-linecap="butt"/>
<line x1="1432.20" y1="162.37" x2="1437.20" y2="162.37" stroke="#000" stroke-width="2" stroke-linecap="butt"/>
<line x1="1432.20" y1="72.70" x2="1437.20" y2="72.70" stroke="#000" stroke-width="2" stroke-linecap="butt"/>
<line x1="1434.20" y1="296.87" x2="1437.20" y2="296.87" stroke="#000" stroke-width="2" stroke-linecap="butt"/>
<line x1="1434.20" y1="207.20" x2="1437.20" y2="207.20" stroke="#000" stroke-width="2" stroke-linecap="butt"/>
<line x1="1434.20" y1="117.53" x2="1437.20" y2="117.53" stroke="#000" stroke-width="2" stroke-linecap="butt"/>
<text x="1410.37" y="79.30" font-family='"Liberation Sans", Arial, sans-serif' font-weight="bold" font-size="18.00" fill="#000" textLength="20.10" lengthAdjust="spacingAndGlyphs" stroke="#000" stroke-width="0.38">90</text>
<text x="1410.37" y="168.87" font-family='"Liberation Sans", Arial, sans-serif' font-weight="bold" font-size="18.00" fill="#000" textLength="20.10" lengthAdjust="spacingAndGlyphs" stroke="#000" stroke-width="0.38">60</text>
<text x="1410.55" y="258.53" font-family='"Liberation Sans", Arial, sans-serif' font-weight="bold" font-size="18.00" fill="#000" textLength="19.91" lengthAdjust="spacingAndGlyphs" stroke="#000" stroke-width="0.38">30</text>
<text x="1418.64" y="348.20" font-family='"Liberation Sans", Arial, sans-serif' font-weight="bold" font-size="18.00" fill="#000" textLength="11.94" lengthAdjust="spacingAndGlyphs" stroke="#000" stroke-width="0.38">0</text>
<g transform="translate(1400.3,229.8) rotate(-90)">
<text x="-1.21" y="0.00" font-family='"Liberation Sans", Arial, sans-serif' font-weight="bold" font-size="25.20" fill="#000" textLength="5.17" lengthAdjust="spacingAndGlyphs" stroke="#000" stroke-width="0.45">I</text>
<text x="6.02" y="3.90" font-family='"Liberation Sans", Arial, sans-serif' font-weight="bold" font-size="20.60" fill="#000" textLength="11.69" lengthAdjust="spacingAndGlyphs" stroke="#000" stroke-width="0.41">X</text>
<text x="19.99" y="0.00" font-family='"Liberation Sans", Arial, sans-serif' font-weight="bold" font-size="25.20" fill="#000" textLength="5.77" lengthAdjust="spacingAndGlyphs" stroke="#000" stroke-width="0.45">/</text>
<text x="27.86" y="0.00" font-family='"Liberation Sans", Arial, sans-serif' font-weight="bold" font-size="25.20" fill="#000" textLength="5.75" lengthAdjust="spacingAndGlyphs" stroke="#000" stroke-width="0.45">I</text>
<text x="34.66" y="3.90" font-family='"Liberation Sans", Arial, sans-serif' font-weight="bold" font-size="20.10" fill="#000" textLength="10.30" lengthAdjust="spacingAndGlyphs" stroke="#000" stroke-width="0.40">0</text>
</g>
<text x="19.54" y="699.50" font-family='"Liberation Sans", Arial, sans-serif' font-weight="normal" font-size="99.50" fill="#000" textLength="54.48" lengthAdjust="spacingAndGlyphs">c</text>
<clipPath id="clipc"><rect x="214.5" y="735.6" width="590.2" height="476.4"/></clipPath>
<g clip-path="url(#clipc)">
<path d="M215.5,1125.4 L217.5,1125.6 L219.5,1125.4 L221.5,1124.6 L223.5,1123.4 L225.5,1121.7 L227.5,1119.5 L229.5,1116.8 L231.5,1113.6 L233.5,1109.9 L235.5,1105.7 L237.5,1101.1 L239.5,1095.8 L241.5,1090.1 L243.5,1083.9 L245.5,1077.2 L247.5,1069.9 L249.5,1062.0 L251.5,1053.5 L253.5,1044.1 L255.5,1033.8 L257.5,1023.0 L259.5,1012.0 L261.5,1001.3 L263.5,991.0 L265.5,980.9 L267.5,971.1 L269.5,961.6 L271.5,952.2 L273.5,943.0 L275.5,933.9 L277.5,924.9 L279.5,915.9 L281.5,907.0 L283.5,898.1 L285.5,889.3 L287.5,880.7 L289.5,872.5 L291.5,864.6 L293.5,857.2 L295.5,850.3 L297.5,844.1 L299.5,838.6 L301.5,833.8 L303.5,829.8 L305.5,826.5 L307.5,824.2 L309.5,822.7 L311.5,822.1 L313.5,822.3 L315.5,823.4 L317.5,825.1 L319.5,827.5 L321.5,830.5 L323.5,834.0 L325.5,837.9 L327.5,842.2 L329.5,846.8 L331.5,851.6 L333.5,856.5 L335.5,861.5 L337.5,866.6 L339.5,871.6 L341.5,876.7 L343.5,881.9 L345.5,887.0 L347.5,892.2 L349.5,897.4 L351.5,902.6 L353.5,907.8 L355.5,913.0 L357.5,918.3 L359.5,923.5 L361.5,928.8 L363.5,934.1 L365.5,939.3 L367.5,944.6 L369.5,949.9 L371.5,955.2 L373.5,960.4 L375.5,965.7 L377.5,970.9 L379.5,976.2 L381.5,981.4 L383.5,986.6 L385.5,991.7 L387.5,996.8 L389.5,1001.9 L391.5,1006.9 L393.5,1011.9 L395.5,1016.7 L397.5,1021.5 L399.5,1026.3 L401.5,1030.9 L403.5,1035.4 L405.5,1039.9 L407.5,1044.2 L409.5,1048.4 L411.5,1052.4 L413.5,1056.4 L415.5,1060.2 L417.5,1063.8 L419.5,1067.3 L421.5,1070.6 L423.5,1073.8 L425.5,1076.9 L427.5,1079.9 L429.5,1082.9 L431.5,1085.8 L433.5,1088.6 L435.5,1091.5 L437.5,1094.3 L439.5,1097.2 L441.5,1100.0 L443.5,1102.8 L445.5,1105.6 L447.5,1108.3 L449.5,1110.9 L451.5,1113.5 L453.5,1116.0 L455.5,1118.4 L457.5,1120.8 L459.5,1123.0 L461.5,1125.2 L463.5,1127.3 L465.5,1129.4 L467.5,1131.4 L469.5,1133.3 L471.5,1135.2 L473.5,1137.1 L475.5,1138.9 L477.5,1140.6 L479.5,1142.4 L481.5,1144.0 L483.5,1145.7 L485.5,1147.3 L487.5,1148.8 L489.5,1150.4 L491.5,1151.9 L493.5,1153.3 L495.5,1154.7 L497.5,1156.1 L499.5,1157.5 L501.5,1158.8 L503.5,1160.1 L505.5,1161.4 L507.5,1162.7 L509.5,1163.9 L511.5,1165.1 L513.5,1166.3 L515.5,1167.5 L517.5,1168.6 L519.5,1169.7 L521.5,1170.8 L523.5,1171.8 L525.5,1172.9 L527.5,1173.9 L529.5,1174.9 L531.5,1175.9 L533.5,1176.8 L535.5,1177.7 L537.5,1178.6 L539.5,1179.5 L541.5,1180.4 L543.5,1181.2 L545.5,1182.0 L547.5,1182.8 L549.5,1183.6 L551.5,1184.4 L553.5,1185.1 L555.5,1185.8 L557.5,1186.5 L559.5,1187.2 L561.5,1187.9 L563.5,1188.5 L565.5,1189.1 L567.5,1189.7 L569.5,1190.3 L571.5,1190.9 L573.5,1191.5 L575.5,1192.0 L577.5,1192.5 L579.5,1193.0 L581.5,1193.5 L583.5,1194.0 L585.5,1194.5 L587.5,1194.9 L589.5,1195.4 L591.5,1195.8 L593.5,1196.2 L595.5,1196.6 L597.5,1197.0 L599.5,1197.4 L601.5,1197.7 L603.5,1198.1 L605.5,1198.4 L607.5,1198.7 L609.5,1199.1 L611.5,1199.4 L613.5,1199.6 L615.5,1199.9 L617.5,1200.2 L619.5,1200.5 L621.5,1200.7 L623.5,1201.0 L625.5,1201.2 L627.5,1201.4 L629.5,1201.6 L631.5,1201.8 L633.5,1202.0 L635.5,1202.2 L637.5,1202.4 L639.5,1202.6 L641.5,1202.8 L643.5,1202.9 L645.5,1203.1 L647.5,1203.2 L649.5,1203.4 L651.5,1203.5 L653.5,1203.7 L655.5,1203.8 L657.5,1203.9 L659.5,1204.0 L661.5,1204.2 L663.5,1204.3 L665.5,1204.4 L667.5,1204.5 L669.5,1204.6 L671.5,1204.7 L673.5,1204.7 L675.5,1204.8 L677.5,1204.9 L679.5,1205.0 L681.5,1205.1 L683.5,1205.1 L685.5,1205.2 L687.5,1205.2 L689.5,1205.3 L691.5,1205.4 L693.5,1205.4 L695.5,1205.5 L697.5,1205.5 L699.5,1205.5 L701.5,1205.6 L703.5,1205.6 L705.5,1205.7 L707.5,1205.7 L709.5,1205.7 L711.5,1205.8 L713.5,1205.8 L715.5,1205.8 L717.5,1205.8 L719.5,1205.9 L721.5,1205.9 L723.5,1205.9 L725.5,1205.9 L727.5,1206.0 L729.5,1206.0 L731.5,1206.0 L733.5,1206.0 L735.5,1206.0 L737.5,1206.1 L739.5,1206.1 L741.5,1206.1 L743.5,1206.1 L745.5,1206.1 L747.5,1206.1 L749.5,1206.2 L751.5,1206.2 L753.5,1206.2 L755.5,1206.2 L757.5,1206.3 L759.5,1206.3 L761.5,1206.3 L763.5,1206.3 L765.5,1206.4 L767.5,1206.4 L769.5,1206.4 L771.5,1206.5 L773.5,1206.5 L775.5,1206.5 L777.5,1206.6 L779.5,1206.6 L781.5,1206.7 L783.5,1206.7 L785.5,1206.8 L787.5,1206.8 L789.5,1206.9 L791.5,1207.0 L793.5,1207.0 L795.5,1207.1 L797.5,1207.2 L799.5,1207.3 L801.5,1207.3 L803.5,1207.4" fill="none" stroke="#ff0000" stroke-width="4.6" stroke-linejoin="round" stroke-linecap="butt"/>
<path d="M215.5,1129.4 L217.5,1131.1 L219.5,1132.3 L221.5,1132.9 L223.5,1133.0 L225.5,1132.6 L227.5,1131.7 L229.5,1130.4 L231.5,1128.6 L233.5,1126.3 L235.5,1123.7 L237.5,1120.6 L239.5,1117.1 L241.5,1113.3 L243.5,1109.1 L245.5,1104.5 L247.5,1099.7 L249.5,1094.5 L251.5,1089.0 L253.5,1083.3 L255.5,1077.3 L257.5,1071.0 L259.5,1064.6 L261.5,1057.9 L263.5,1051.1 L265.5,1044.2 L267.5,1037.2 L269.5,1030.1 L271.5,1023.1 L273.5,1016.2 L275.5,1009.3 L277.5,1002.6 L279.5,996.0 L281.5,989.6 L283.5,983.5 L285.5,977.7 L287.5,972.1 L289.5,967.0 L291.5,962.3 L293.5,957.9 L295.5,954.0 L297.5,950.5 L299.5,947.5 L301.5,944.8 L303.5,942.7 L305.5,941.0 L307.5,939.7 L309.5,938.9 L311.5,938.6 L313.5,938.8 L315.5,939.4 L317.5,940.6 L319.5,942.2 L321.5,944.3 L323.5,946.7 L325.5,949.4 L327.5,952.4 L329.5,955.6 L331.5,958.9 L333.5,962.3 L335.5,965.8 L337.5,969.3 L339.5,972.9 L341.5,976.6 L343.5,980.2 L345.5,983.9 L347.5,987.7 L349.5,991.4 L351.5,995.1 L353.5,998.9 L355.5,1002.6 L357.5,1006.3 L359.5,1010.1 L361.5,1013.8 L363.5,1017.5 L365.5,1021.2 L367.5,1024.9 L369.5,1028.6 L371.5,1032.3 L373.5,1035.9 L375.5,1039.5 L377.5,1043.1 L379.5,1046.7 L381.5,1050.2 L383.5,1053.7 L385.5,1057.2 L387.5,1060.6 L389.5,1063.9 L391.5,1067.2 L393.5,1070.5 L395.5,1073.6 L397.5,1076.7 L399.5,1079.7 L401.5,1082.6 L403.5,1085.4 L405.5,1088.1 L407.5,1090.8 L409.5,1093.5 L411.5,1096.0 L413.5,1098.5 L415.5,1101.0 L417.5,1103.4 L419.5,1105.8 L421.5,1108.1 L423.5,1110.4 L425.5,1112.7 L427.5,1114.9 L429.5,1117.0 L431.5,1119.2 L433.5,1121.3 L435.5,1123.3 L437.5,1125.3 L439.5,1127.3 L441.5,1129.2 L443.5,1131.1 L445.5,1132.9 L447.5,1134.7 L449.5,1136.5 L451.5,1138.2 L453.5,1139.9 L455.5,1141.6 L457.5,1143.2 L459.5,1144.8 L461.5,1146.4 L463.5,1147.9 L465.5,1149.4 L467.5,1150.9 L469.5,1152.3 L471.5,1153.8 L473.5,1155.1 L475.5,1156.5 L477.5,1157.8 L479.5,1159.1 L481.5,1160.3 L483.5,1161.6 L485.5,1162.8 L487.5,1163.9 L489.5,1165.1 L491.5,1166.2 L493.5,1167.3 L495.5,1168.4 L497.5,1169.4 L499.5,1170.5 L501.5,1171.5 L503.5,1172.4 L505.5,1173.4 L507.5,1174.3 L509.5,1175.2 L511.5,1176.1 L513.5,1177.0 L515.5,1177.8 L517.5,1178.7 L519.5,1179.5 L521.5,1180.3 L523.5,1181.0 L525.5,1181.8 L527.5,1182.5 L529.5,1183.2 L531.5,1183.9 L533.5,1184.6 L535.5,1185.3 L537.5,1185.9 L539.5,1186.6 L541.5,1187.2 L543.5,1187.8 L545.5,1188.4 L547.5,1189.0 L549.5,1189.5 L551.5,1190.1 L553.5,1190.6 L555.5,1191.1 L557.5,1191.7 L559.5,1192.2 L561.5,1192.7 L563.5,1193.2 L565.5,1193.6 L567.5,1194.1 L569.5,1194.6 L571.5,1195.0 L573.5,1195.4 L575.5,1195.9 L577.5,1196.3 L579.5,1196.7 L581.5,1197.1 L583.5,1197.5 L585.5,1197.9 L587.5,1198.2 L589.5,1198.6 L591.5,1198.9 L593.5,1199.2 L595.5,1199.5 L597.5,1199.8 L599.5,1200.1 L601.5,1200.3 L603.5,1200.5 L605.5,1200.7 L607.5,1200.9 L609.5,1201.0 L611.5,1201.1 L613.5,1201.2 L615.5,1201.3 L617.5,1201.3 L619.5,1201.4 L621.5,1201.3 L623.5,1201.3 L625.5,1201.2 L627.5,1201.1 L629.5,1201.0 L631.5,1200.8 L633.5,1200.6 L635.5,1200.3 L637.5,1200.0 L639.5,1199.7 L641.5,1199.3 L643.5,1198.9 L645.5,1198.5 L647.5,1198.0 L649.5,1197.5 L651.5,1196.9 L653.5,1196.3 L655.5,1195.6 L657.5,1194.9 L659.5,1194.2 L661.5,1193.4 L663.5,1192.6 L665.5,1191.8 L667.5,1190.9 L669.5,1190.1 L671.5,1189.3 L673.5,1188.4 L675.5,1187.6 L677.5,1186.8 L679.5,1186.0 L681.5,1185.3 L683.5,1184.6 L685.5,1184.0 L687.5,1183.4 L689.5,1182.8 L691.5,1182.4 L693.5,1182.0 L695.5,1181.7 L697.5,1181.5 L699.5,1181.3 L701.5,1181.2 L703.5,1181.2 L705.5,1181.3 L707.5,1181.4 L709.5,1181.6 L711.5,1181.8 L713.5,1182.1 L715.5,1182.4 L717.5,1182.7 L719.5,1183.1 L721.5,1183.5 L723.5,1184.0 L725.5,1184.5 L727.5,1184.9 L729.5,1185.5 L731.5,1186.0 L733.5,1186.5 L735.5,1187.0 L737.5,1187.5 L739.5,1188.1 L741.5,1188.6 L743.5,1189.1 L745.5,1189.6 L747.5,1190.1 L749.5,1190.6 L751.5,1191.1 L753.5,1191.6 L755.5,1192.0 L757.5,1192.5 L759.5,1192.9 L761.5,1193.4 L763.5,1193.8 L765.5,1194.2 L767.5,1194.5 L769.5,1194.9 L771.5,1195.2 L773.5,1195.5 L775.5,1195.8 L777.5,1196.1 L779.5,1196.3 L781.5,1196.5 L783.5,1196.7 L785.5,1196.8 L787.5,1196.9 L789.5,1197.0 L791.5,1197.0 L793.5,1197.1 L795.5,1197.0 L797.5,1197.0 L799.5,1196.9 L801.5,1196.7 L803.5,1196.5" fill="none" stroke="#000" stroke-width="4.6" stroke-linejoin="round" stroke-linecap="butt"/>
<path d="M215.5,1132.7 L217.5,1134.0 L219.5,1135.3 L221.5,1136.5 L223.5,1137.7 L225.5,1138.7 L227.5,1139.5 L229.5,1140.1 L231.5,1140.4 L233.5,1140.3 L235.5,1139.9 L237.5,1139.0 L239.5,1137.6 L241.5,1135.6 L243.5,1133.1 L245.5,1130.0 L247.5,1126.4 L249.5,1122.4 L251.5,1118.2 L253.5,1113.9 L255.5,1109.5 L257.5,1105.1 L259.5,1100.9 L261.5,1096.8 L263.5,1092.9 L265.5,1089.0 L267.5,1085.1 L269.5,1081.3 L271.5,1077.5 L273.5,1073.7 L275.5,1069.9 L277.5,1066.0 L279.5,1062.2 L281.5,1058.4 L283.5,1054.7 L285.5,1051.1 L287.5,1047.7 L289.5,1044.4 L291.5,1041.3 L293.5,1038.5 L295.5,1036.0 L297.5,1033.8 L299.5,1031.9 L301.5,1030.4 L303.5,1029.3 L305.5,1028.5 L307.5,1028.0 L309.5,1027.9 L311.5,1028.0 L313.5,1028.5 L315.5,1029.2 L317.5,1030.2 L319.5,1031.4 L321.5,1032.8 L323.5,1034.4 L325.5,1036.2 L327.5,1038.1 L329.5,1040.3 L331.5,1042.5 L333.5,1044.8 L335.5,1047.3 L337.5,1049.8 L339.5,1052.4 L341.5,1055.0 L343.5,1057.7 L345.5,1060.4 L347.5,1063.0 L349.5,1065.7 L351.5,1068.3 L353.5,1070.9 L355.5,1073.4 L357.5,1076.0 L359.5,1078.5 L361.5,1080.9 L363.5,1083.3 L365.5,1085.8 L367.5,1088.1 L369.5,1090.5 L371.5,1092.8 L373.5,1095.1 L375.5,1097.3 L377.5,1099.5 L379.5,1101.7 L381.5,1103.9 L383.5,1106.0 L385.5,1108.1 L387.5,1110.2 L389.5,1112.2 L391.5,1114.2 L393.5,1116.2 L395.5,1118.2 L397.5,1120.1 L399.5,1122.0 L401.5,1123.8 L403.5,1125.7 L405.5,1127.5 L407.5,1129.2 L409.5,1131.0 L411.5,1132.7 L413.5,1134.4 L415.5,1136.0 L417.5,1137.7 L419.5,1139.3 L421.5,1140.9 L423.5,1142.4 L425.5,1143.9 L427.5,1145.4 L429.5,1146.9 L431.5,1148.3 L433.5,1149.8 L435.5,1151.1 L437.5,1152.5 L439.5,1153.8 L441.5,1155.1 L443.5,1156.4 L445.5,1157.7 L447.5,1158.9 L449.5,1160.1 L451.5,1161.3 L453.5,1162.5 L455.5,1163.6 L457.5,1164.7 L459.5,1165.8 L461.5,1166.9 L463.5,1167.9 L465.5,1168.9 L467.5,1169.9 L469.5,1170.9 L471.5,1171.8 L473.5,1172.8 L475.5,1173.7 L477.5,1174.5 L479.5,1175.4 L481.5,1176.2 L483.5,1177.1 L485.5,1177.8 L487.5,1178.6 L489.5,1179.4 L491.5,1180.1 L493.5,1180.8 L495.5,1181.5 L497.5,1182.1 L499.5,1182.8 L501.5,1183.4 L503.5,1184.0 L505.5,1184.6 L507.5,1185.2 L509.5,1185.7 L511.5,1186.2 L513.5,1186.7 L515.5,1187.2 L517.5,1187.7 L519.5,1188.1 L521.5,1188.6 L523.5,1189.0 L525.5,1189.4 L527.5,1189.8 L529.5,1190.2 L531.5,1190.5 L533.5,1190.8 L535.5,1191.2 L537.5,1191.5 L539.5,1191.8 L541.5,1192.1 L543.5,1192.4 L545.5,1192.7 L547.5,1192.9 L549.5,1193.2 L551.5,1193.4 L553.5,1193.7 L555.5,1193.9 L557.5,1194.1 L559.5,1194.3 L561.5,1194.6 L563.5,1194.8 L565.5,1195.0 L567.5,1195.2 L569.5,1195.4 L571.5,1195.6 L573.5,1195.8 L575.5,1196.0 L577.5,1196.2 L579.5,1196.4 L581.5,1196.6 L583.5,1196.8 L585.5,1197.0 L587.5,1197.2 L589.5,1197.4 L591.5,1197.6 L593.5,1197.8 L595.5,1197.9 L597.5,1198.1 L599.5,1198.2 L601.5,1198.3 L603.5,1198.4 L605.5,1198.5 L607.5,1198.5 L609.5,1198.5 L611.5,1198.5 L613.5,1198.4 L615.5,1198.3 L617.5,1198.1 L619.5,1197.9 L621.5,1197.7 L623.5,1197.4 L625.5,1197.0 L627.5,1196.6 L629.5,1196.1 L631.5,1195.6 L633.5,1195.0 L635.5,1194.4 L637.5,1193.6 L639.5,1192.9 L641.5,1192.0 L643.5,1191.0 L645.5,1190.0 L647.5,1188.9 L649.5,1187.7 L651.5,1186.4 L653.5,1185.0 L655.5,1183.4 L657.5,1181.6 L659.5,1179.7 L661.5,1177.5 L663.5,1175.1 L665.5,1172.4 L667.5,1169.6 L669.5,1166.5 L671.5,1163.4 L673.5,1160.2 L675.5,1157.0 L677.5,1153.8 L679.5,1150.7 L681.5,1147.7 L683.5,1144.9 L685.5,1142.2 L687.5,1139.7 L689.5,1137.3 L691.5,1135.2 L693.5,1133.3 L695.5,1131.5 L697.5,1130.0 L699.5,1128.8 L701.5,1127.8 L703.5,1127.1 L705.5,1126.6 L707.5,1126.4 L709.5,1126.5 L711.5,1126.9 L713.5,1127.4 L715.5,1128.2 L717.5,1129.1 L719.5,1130.2 L721.5,1131.5 L723.5,1132.9 L725.5,1134.3 L727.5,1135.9 L729.5,1137.5 L731.5,1139.1 L733.5,1140.8 L735.5,1142.5 L737.5,1144.1 L739.5,1145.7 L741.5,1147.3 L743.5,1148.9 L745.5,1150.5 L747.5,1152.0 L749.5,1153.5 L751.5,1155.0 L753.5,1156.4 L755.5,1157.8 L757.5,1159.1 L759.5,1160.5 L761.5,1161.7 L763.5,1162.9 L765.5,1164.1 L767.5,1165.2 L769.5,1166.3 L771.5,1167.3 L773.5,1168.2 L775.5,1169.1 L777.5,1169.9 L779.5,1170.6 L781.5,1171.3 L783.5,1171.9 L785.5,1172.4 L787.5,1172.8 L789.5,1173.2 L791.5,1173.5 L793.5,1173.7 L795.5,1173.8 L797.5,1173.8 L799.5,1173.7 L801.5,1173.5 L803.5,1173.3" fill="none" stroke="#0000ff" stroke-width="4.6" stroke-linejoin="round" stroke-linecap="butt"/>
<path d="M215.5,1134.4 L217.5,1137.1 L219.5,1139.5 L221.5,1141.6 L223.5,1143.3 L225.5,1144.7 L227.5,1145.8 L229.5,1146.7 L231.5,1147.2 L233.5,1147.6 L235.5,1147.7 L237.5,1147.6 L239.5,1147.4 L241.5,1147.0 L243.5,1146.4 L245.5,1145.7 L247.5,1144.9 L249.5,1144.0 L251.5,1143.0 L253.5,1142.0 L255.5,1141.0 L257.5,1139.9 L259.5,1138.8 L261.5,1137.7 L263.5,1136.7 L265.5,1135.8 L267.5,1134.9 L269.5,1134.0 L271.5,1133.2 L273.5,1132.5 L275.5,1131.7 L277.5,1131.1 L279.5,1130.4 L281.5,1129.8 L283.5,1129.2 L285.5,1128.6 L287.5,1128.0 L289.5,1127.4 L291.5,1126.8 L293.5,1126.2 L295.5,1125.6 L297.5,1125.0 L299.5,1124.5 L301.5,1124.0 L303.5,1123.6 L305.5,1123.3 L307.5,1123.2 L309.5,1123.2 L311.5,1123.3 L313.5,1123.6 L315.5,1124.1 L317.5,1124.7 L319.5,1125.5 L321.5,1126.3 L323.5,1127.3 L325.5,1128.3 L327.5,1129.4 L329.5,1130.6 L331.5,1131.8 L333.5,1133.0 L335.5,1134.3 L337.5,1135.6 L339.5,1136.8 L341.5,1138.1 L343.5,1139.3 L345.5,1140.6 L347.5,1141.8 L349.5,1143.0 L351.5,1144.1 L353.5,1145.3 L355.5,1146.4 L357.5,1147.5 L359.5,1148.6 L361.5,1149.7 L363.5,1150.7 L365.5,1151.8 L367.5,1152.8 L369.5,1153.8 L371.5,1154.8 L373.5,1155.7 L375.5,1156.7 L377.5,1157.6 L379.5,1158.5 L381.5,1159.4 L383.5,1160.3 L385.5,1161.1 L387.5,1162.0 L389.5,1162.8 L391.5,1163.6 L393.5,1164.4 L395.5,1165.2 L397.5,1166.0 L399.5,1166.7 L401.5,1167.5 L403.5,1168.2 L405.5,1168.9 L407.5,1169.6 L409.5,1170.3 L411.5,1170.9 L413.5,1171.6 L415.5,1172.2 L417.5,1172.9 L419.5,1173.5 L421.5,1174.1 L423.5,1174.7 L425.5,1175.3 L427.5,1175.8 L429.5,1176.4 L431.5,1176.9 L433.5,1177.5 L435.5,1178.0 L437.5,1178.5 L439.5,1179.0 L441.5,1179.5 L443.5,1180.0 L445.5,1180.5 L447.5,1181.0 L449.5,1181.4 L451.5,1181.9 L453.5,1182.3 L455.5,1182.8 L457.5,1183.2 L459.5,1183.6 L461.5,1184.0 L463.5,1184.5 L465.5,1184.9 L467.5,1185.3 L469.5,1185.6 L471.5,1186.0 L473.5,1186.4 L475.5,1186.8 L477.5,1187.2 L479.5,1187.5 L481.5,1187.9 L483.5,1188.2 L485.5,1188.6 L487.5,1188.9 L489.5,1189.3 L491.5,1189.6 L493.5,1190.0 L495.5,1190.3 L497.5,1190.6 L499.5,1191.0 L501.5,1191.3 L503.5,1191.6 L505.5,1191.9 L507.5,1192.2 L509.5,1192.5 L511.5,1192.8 L513.5,1193.1 L515.5,1193.4 L517.5,1193.7 L519.5,1194.0 L521.5,1194.2 L523.5,1194.5 L525.5,1194.7 L527.5,1194.9 L529.5,1195.1 L531.5,1195.3 L533.5,1195.5 L535.5,1195.7 L537.5,1195.9 L539.5,1196.0 L541.5,1196.2 L543.5,1196.3 L545.5,1196.4 L547.5,1196.5 L549.5,1196.5 L551.5,1196.6 L553.5,1196.6 L555.5,1196.7 L557.5,1196.7 L559.5,1196.6 L561.5,1196.6 L563.5,1196.5 L565.5,1196.5 L567.5,1196.4 L569.5,1196.2 L571.5,1196.1 L573.5,1196.0 L575.5,1195.8 L577.5,1195.7 L579.5,1195.5 L581.5,1195.4 L583.5,1195.2 L585.5,1195.0 L587.5,1194.9 L589.5,1194.7 L591.5,1194.6 L593.5,1194.4 L595.5,1194.3 L597.5,1194.1 L599.5,1194.0 L601.5,1193.9 L603.5,1193.8 L605.5,1193.7 L607.5,1193.6 L609.5,1193.5 L611.5,1193.3 L613.5,1193.0 L615.5,1192.5 L617.5,1192.0 L619.5,1191.3 L621.5,1190.5 L623.5,1189.4 L625.5,1188.2 L627.5,1186.7 L629.5,1185.0 L631.5,1183.0 L633.5,1180.7 L635.5,1178.1 L637.5,1175.1 L639.5,1171.7 L641.5,1168.0 L643.5,1163.8 L645.5,1159.1 L647.5,1154.0 L649.5,1148.3 L651.5,1142.1 L653.5,1135.3 L655.5,1127.9 L657.5,1120.0 L659.5,1111.6 L661.5,1102.9 L663.5,1094.0 L665.5,1085.2 L667.5,1076.4 L669.5,1067.9 L671.5,1059.7 L673.5,1051.7 L675.5,1044.0 L677.5,1036.6 L679.5,1029.5 L681.5,1022.7 L683.5,1016.2 L685.5,1010.0 L687.5,1004.1 L689.5,998.6 L691.5,993.5 L693.5,988.7 L695.5,984.3 L697.5,980.3 L699.5,976.7 L701.5,973.5 L703.5,970.7 L705.5,968.4 L707.5,966.5 L709.5,965.1 L711.5,964.2 L713.5,963.7 L715.5,963.8 L717.5,964.3 L719.5,965.4 L721.5,966.9 L723.5,968.8 L725.5,971.2 L727.5,973.9 L729.5,977.0 L731.5,980.4 L733.5,984.1 L735.5,988.1 L737.5,992.3 L739.5,996.7 L741.5,1001.3 L743.5,1006.0 L745.5,1010.8 L747.5,1015.7 L749.5,1020.7 L751.5,1025.6 L753.5,1030.5 L755.5,1035.3 L757.5,1040.0 L759.5,1044.5 L761.5,1048.9 L763.5,1053.0 L765.5,1056.9 L767.5,1060.4 L769.5,1063.7 L771.5,1066.8 L773.5,1069.6 L775.5,1072.2 L777.5,1074.5 L779.5,1076.7 L781.5,1078.6 L783.5,1080.4 L785.5,1082.0 L787.5,1083.5 L789.5,1084.8 L791.5,1085.9 L793.5,1086.9 L795.5,1087.9 L797.5,1088.7 L799.5,1089.4 L801.5,1090.0 L803.5,1090.6" fill="none" stroke="#ff00ff" stroke-width="4.6" stroke-linejoin="round" stroke-linecap="butt"/>
<path d="M215.5,1139.9 L217.5,1142.4 L219.5,1144.6 L221.5,1146.5 L223.5,1148.3 L225.5,1149.7 L227.5,1151.0 L229.5,1152.1 L231.5,1152.9 L233.5,1153.6 L235.5,1154.2 L237.5,1154.6 L239.5,1154.8 L241.5,1155.0 L243.5,1155.1 L245.5,1155.1 L247.5,1155.0 L249.5,1154.9 L251.5,1154.7 L253.5,1154.5 L255.5,1154.3 L257.5,1154.1 L259.5,1154.0 L261.5,1153.9 L263.5,1153.8 L265.5,1153.9 L267.5,1154.0 L269.5,1154.1 L271.5,1154.3 L273.5,1154.6 L275.5,1154.8 L277.5,1155.1 L279.5,1155.4 L281.5,1155.7 L283.5,1155.9 L285.5,1156.1 L287.5,1156.3 L289.5,1156.4 L291.5,1156.4 L293.5,1156.4 L295.5,1156.4 L297.5,1156.3 L299.5,1156.3 L301.5,1156.3 L303.5,1156.3 L305.5,1156.3 L307.5,1156.4 L309.5,1156.6 L311.5,1156.8 L313.5,1157.1 L315.5,1157.5 L317.5,1158.0 L319.5,1158.5 L321.5,1159.1 L323.5,1159.8 L325.5,1160.5 L327.5,1161.3 L329.5,1162.1 L331.5,1162.9 L333.5,1163.7 L335.5,1164.6 L337.5,1165.5 L339.5,1166.4 L341.5,1167.3 L343.5,1168.2 L345.5,1169.1 L347.5,1170.0 L349.5,1170.9 L351.5,1171.8 L353.5,1172.6 L355.5,1173.4 L357.5,1174.2 L359.5,1174.9 L361.5,1175.6 L363.5,1176.2 L365.5,1176.8 L367.5,1177.4 L369.5,1178.0 L371.5,1178.6 L373.5,1179.1 L375.5,1179.6 L377.5,1180.1 L379.5,1180.6 L381.5,1181.1 L383.5,1181.5 L385.5,1182.0 L387.5,1182.5 L389.5,1182.9 L391.5,1183.4 L393.5,1183.8 L395.5,1184.3 L397.5,1184.7 L399.5,1185.1 L401.5,1185.6 L403.5,1186.0 L405.5,1186.4 L407.5,1186.8 L409.5,1187.2 L411.5,1187.6 L413.5,1188.0 L415.5,1188.4 L417.5,1188.8 L419.5,1189.1 L421.5,1189.5 L423.5,1189.9 L425.5,1190.2 L427.5,1190.6 L429.5,1190.9 L431.5,1191.2 L433.5,1191.6 L435.5,1191.9 L437.5,1192.2 L439.5,1192.5 L441.5,1192.8 L443.5,1193.1 L445.5,1193.4 L447.5,1193.6 L449.5,1193.9 L451.5,1194.2 L453.5,1194.4 L455.5,1194.7 L457.5,1194.9 L459.5,1195.1 L461.5,1195.3 L463.5,1195.6 L465.5,1195.8 L467.5,1195.9 L469.5,1196.1 L471.5,1196.3 L473.5,1196.5 L475.5,1196.6 L477.5,1196.8 L479.5,1196.9 L481.5,1197.0 L483.5,1197.2 L485.5,1197.3 L487.5,1197.4 L489.5,1197.5 L491.5,1197.5 L493.5,1197.6 L495.5,1197.7 L497.5,1197.7 L499.5,1197.8 L501.5,1197.8 L503.5,1197.8 L505.5,1197.8 L507.5,1197.8 L509.5,1197.8 L511.5,1197.8 L513.5,1197.8 L515.5,1197.7 L517.5,1197.7 L519.5,1197.6 L521.5,1197.5 L523.5,1197.4 L525.5,1197.3 L527.5,1197.2 L529.5,1197.1 L531.5,1197.0 L533.5,1196.8 L535.5,1196.7 L537.5,1196.5 L539.5,1196.3 L541.5,1196.1 L543.5,1195.9 L545.5,1195.7 L547.5,1195.4 L549.5,1195.2 L551.5,1194.9 L553.5,1194.6 L555.5,1194.3 L557.5,1193.9 L559.5,1193.6 L561.5,1193.2 L563.5,1192.7 L565.5,1192.3 L567.5,1191.8 L569.5,1191.3 L571.5,1190.8 L573.5,1190.2 L575.5,1189.6 L577.5,1188.9 L579.5,1188.2 L581.5,1187.5 L583.5,1186.8 L585.5,1186.1 L587.5,1185.3 L589.5,1184.5 L591.5,1183.8 L593.5,1183.0 L595.5,1182.3 L597.5,1181.5 L599.5,1180.8 L601.5,1180.2 L603.5,1179.4 L605.5,1178.6 L607.5,1177.8 L609.5,1176.8 L611.5,1175.9 L613.5,1174.8 L615.5,1173.7 L617.5,1172.5 L619.5,1171.3 L621.5,1170.0 L623.5,1168.5 L625.5,1166.8 L627.5,1164.7 L629.5,1162.3 L631.5,1159.3 L633.5,1155.8 L635.5,1151.6 L637.5,1146.7 L639.5,1141.0 L641.5,1134.4 L643.5,1127.0 L645.5,1118.9 L647.5,1110.0 L649.5,1100.4 L651.5,1090.1 L653.5,1079.2 L655.5,1067.6 L657.5,1055.5 L659.5,1042.6 L661.5,1029.0 L663.5,1014.6 L665.5,999.3 L667.5,983.3 L669.5,967.0 L671.5,950.5 L673.5,934.2 L675.5,918.2 L677.5,902.8 L679.5,888.1 L681.5,874.4 L683.5,861.8 L685.5,850.1 L687.5,839.3 L689.5,829.1 L691.5,819.4 L693.5,810.0 L695.5,800.7 L697.5,791.6 L699.5,782.9 L701.5,774.6 L703.5,767.0 L705.5,760.3 L707.5,754.9 L709.5,750.8 L711.5,748.0 L713.5,746.3 L715.5,745.8 L717.5,746.2 L719.5,747.6 L721.5,749.8 L723.5,752.8 L725.5,756.5 L727.5,760.7 L729.5,765.4 L731.5,770.6 L733.5,776.0 L735.5,781.7 L737.5,787.6 L739.5,793.6 L741.5,799.8 L743.5,806.1 L745.5,812.4 L747.5,818.9 L749.5,825.4 L751.5,831.9 L753.5,838.5 L755.5,845.0 L757.5,851.5 L759.5,858.0 L761.5,864.3 L763.5,870.6 L765.5,876.8 L767.5,882.9 L769.5,888.8 L771.5,894.5 L773.5,900.0 L775.5,905.4 L777.5,910.5 L779.5,915.3 L781.5,919.9 L783.5,924.1 L785.5,928.1 L787.5,931.7 L789.5,935.0 L791.5,937.8 L793.5,940.3 L795.5,942.4 L797.5,944.0 L799.5,945.2 L801.5,945.9 L803.5,946.1 L804.5,946.0" fill="none" stroke="#008000" stroke-width="4.6" stroke-linejoin="round" stroke-linecap="butt"/>
</g>
<rect x="214.5" y="735.6" width="590.2" height="476.4" fill="none" stroke="#000" stroke-width="3.2"/>
<line x1="206.00" y1="1212.00" x2="214.50" y2="1212.00" stroke="#000" stroke-width="3" stroke-linecap="butt"/>
<line x1="206.00" y1="1092.90" x2="214.50" y2="1092.90" stroke="#000" stroke-width="3" stroke-linecap="butt"/>
<line x1="206.00" y1="973.80" x2="214.50" y2="973.80" stroke="#000" stroke-width="3" stroke-linecap="butt"/>
<line x1="206.00" y1="854.70" x2="214.50" y2="854.70" stroke="#000" stroke-width="3" stroke-linecap="butt"/>
<line x1="206.00" y1="735.60" x2="214.50" y2="735.60" stroke="#000" stroke-width="3" stroke-linecap="butt"/>
<line x1="210.50" y1="1152.45" x2="214.50" y2="1152.45" stroke="#000" stroke-width="3" stroke-linecap="butt"/>
<line x1="210.50" y1="1033.35" x2="214.50" y2="1033.35" stroke="#000" stroke-width="3" stroke-linecap="butt"/>
<line x1="210.50" y1="914.25" x2="214.50" y2="914.25" stroke="#000" stroke-width="3" stroke-linecap="butt"/>
<line x1="210.50" y1="795.15" x2="214.50" y2="795.15" stroke="#000" stroke-width="3" stroke-linecap="butt"/>
<line x1="226.07" y1="1212.00" x2="226.07" y2="1221.50" stroke="#000" stroke-width="3" stroke-linecap="butt"/>
<line x1="341.80" y1="1212.00" x2="341.80" y2="1221.50" stroke="#000" stroke-width="3" stroke-linecap="butt"/>
<line x1="457.52" y1="1212.00" x2="457.52" y2="1221.50" stroke="#000" stroke-width="3" stroke-linecap="butt"/>
<line x1="573.25" y1="1212.00" x2="573.25" y2="1221.50" stroke="#000" stroke-width="3" stroke-linecap="butt"/>
<line x1="688.97" y1="1212.00" x2="688.97" y2="1221.50" stroke="#000" stroke-width="3" stroke-linecap="butt"/>
<line x1="804.70" y1="1212.00" x2="804.70" y2="1221.50" stroke="#000" stroke-width="3" stroke-linecap="butt"/>
<line x1="283.94" y1="1212.00" x2="283.94" y2="1217.00" stroke="#000" stroke-width="3" stroke-linecap="butt"/>
<line x1="399.66" y1="1212.00" x2="399.66" y2="1217.00" stroke="#000" stroke-width="3" stroke-linecap="butt"/>
<line x1="515.39" y1="1212.00" x2="515.39" y2="1217.00" stroke="#000" stroke-width="3" stroke-linecap="butt"/>
<line x1="631.11" y1="1212.00" x2="631.11" y2="1217.00" stroke="#000" stroke-width="3" stroke-linecap="butt"/>
<line x1="746.84" y1="1212.00" x2="746.84" y2="1217.00" stroke="#000" stroke-width="3" stroke-linecap="butt"/>
<text x="96.51" y="745.90" font-family='"Liberation Sans", Arial, sans-serif' font-weight="bold" font-size="27.70" fill="#000" textLength="92.41" lengthAdjust="spacingAndGlyphs" stroke="#000" stroke-width="0.47">6.00x10</text>
<text x="190.81" y="732.10" font-family='"Liberation Sans", Arial, sans-serif' font-weight="bold" font-size="16.60" fill="#000" textLength="9.01" lengthAdjust="spacingAndGlyphs" stroke="#000" stroke-width="0.37">5</text>
<text x="97.02" y="865.00" font-family='"Liberation Sans", Arial, sans-serif' font-weight="bold" font-size="27.70" fill="#000" textLength="91.89" lengthAdjust="spacingAndGlyphs" stroke="#000" stroke-width="0.47">4.50x10</text>
<text x="190.81" y="851.20" font-family='"Liberation Sans", Arial, sans-serif' font-weight="bold" font-size="16.60" fill="#000" textLength="9.01" lengthAdjust="spacingAndGlyphs" stroke="#000" stroke-width="0.37">5</text>
<text x="96.76" y="984.10" font-family='"Liberation Sans", Arial, sans-serif' font-weight="bold" font-size="27.70" fill="#000" textLength="92.15" lengthAdjust="spacingAndGlyphs" stroke="#000" stroke-width="0.47">3.00x10</text>
<text x="190.81" y="970.30" font-family='"Liberation Sans", Arial, sans-serif' font-weight="bold" font-size="16.60" fill="#000" textLength="9.01" lengthAdjust="spacingAndGlyphs" stroke="#000" stroke-width="0.37">5</text>
<text x="96.97" y="1103.20" font-family='"Liberation Sans", Arial, sans-serif' font-weight="bold" font-size="27.70" fill="#000" textLength="91.94" lengthAdjust="spacingAndGlyphs" stroke="#000" stroke-width="0.47">1.50x10</text>
<text x="190.81" y="1089.40" font-family='"Liberation Sans", Arial, sans-serif' font-weight="bold" font-size="16.60" fill="#000" textLength="9.01" lengthAdjust="spacingAndGlyphs" stroke="#000" stroke-width="0.37">5</text>
<text x="149.50" y="1220.30" font-family='"Liberation Sans", Arial, sans-serif' font-weight="bold" font-size="27.40" fill="#000" textLength="48.53" lengthAdjust="spacingAndGlyphs" stroke="#000" stroke-width="0.47">0.00</text>
<text x="205.50" y="1248.60" font-family='"Liberation Sans", Arial, sans-serif' font-weight="bold" font-size="27.50" fill="#000" textLength="41.87" lengthAdjust="spacingAndGlyphs" stroke="#000" stroke-width="0.47">450</text>
<text x="320.84" y="1248.60" font-family='"Liberation Sans", Arial, sans-serif' font-weight="bold" font-size="27.50" fill="#000" textLength="42.26" lengthAdjust="spacingAndGlyphs" stroke="#000" stroke-width="0.47">500</text>
<text x="436.56" y="1248.60" font-family='"Liberation Sans", Arial, sans-serif' font-weight="bold" font-size="27.50" fill="#000" textLength="42.26" lengthAdjust="spacingAndGlyphs" stroke="#000" stroke-width="0.47">550</text>
<text x="552.16" y="1248.60" font-family='"Liberation Sans", Arial, sans-serif' font-weight="bold" font-size="27.50" fill="#000" textLength="42.39" lengthAdjust="spacingAndGlyphs" stroke="#000" stroke-width="0.47">600</text>
<text x="667.89" y="1248.60" font-family='"Liberation Sans", Arial, sans-serif' font-weight="bold" font-size="27.50" fill="#000" textLength="42.39" lengthAdjust="spacingAndGlyphs" stroke="#000" stroke-width="0.47">650</text>
<text x="783.48" y="1248.60" font-family='"Liberation Sans", Arial, sans-serif' font-weight="bold" font-size="27.50" fill="#000" textLength="42.53" lengthAdjust="spacingAndGlyphs" stroke="#000" stroke-width="0.47">700</text>
<text x="375.50" y="1304.50" font-family='"Liberation Sans", Arial, sans-serif' font-weight="bold" font-size="38.10" fill="#000" textLength="270.65" lengthAdjust="spacingAndGlyphs" stroke="#000" stroke-width="0.56">Wavelength (nm)</text>
<text transform="translate(66.60,1170.70) rotate(-90)" x="-2.39" y="0" font-family='"Liberation Sans", Arial, sans-serif' font-weight="bold" font-size="33.80" fill="#000" textLength="398.55" lengthAdjust="spacingAndGlyphs" stroke="#000" stroke-width="0.52">Fluorescence Intensity</text>
<line x1="409.00" y1="783.00" x2="454.00" y2="783.00" stroke="#ff0000" stroke-width="5.2" stroke-linecap="round"/>
<text x="461.50" y="790.30" font-family='"Liberation Sans", Arial, sans-serif' font-weight="bold" font-size="20.90" fill="#000" textLength="118.55" lengthAdjust="spacingAndGlyphs" stroke="#000" stroke-width="0.41">TdT product</text>
<line x1="409.00" y1="811.20" x2="454.00" y2="811.20" stroke="#000" stroke-width="5.2" stroke-linecap="round"/>
<text x="460.89" y="818.30" font-family='"Liberation Sans", Arial, sans-serif' font-weight="bold" font-size="20.90" fill="#000" textLength="159.99" lengthAdjust="spacingAndGlyphs" stroke="#000" stroke-width="0.41">+0.2 uM TMPyP4</text>
<line x1="409.00" y1="839.50" x2="454.00" y2="839.50" stroke="#0000ff" stroke-width="5.2" stroke-linecap="round"/>
<text x="460.89" y="846.70" font-family='"Liberation Sans", Arial, sans-serif' font-weight="bold" font-size="20.90" fill="#000" textLength="159.99" lengthAdjust="spacingAndGlyphs" stroke="#000" stroke-width="0.41">+0.5 uM TMPyP4</text>
<line x1="409.00" y1="867.90" x2="454.00" y2="867.90" stroke="#ff00ff" stroke-width="5.2" stroke-linecap="round"/>
<text x="460.89" y="875.20" font-family='"Liberation Sans", Arial, sans-serif' font-weight="bold" font-size="20.90" fill="#000" textLength="143.22" lengthAdjust="spacingAndGlyphs" stroke="#000" stroke-width="0.41">+1 uM TMPyP4</text>
<line x1="409.00" y1="895.60" x2="454.00" y2="895.60" stroke="#008000" stroke-width="5.2" stroke-linecap="round"/>
<text x="460.89" y="902.40" font-family='"Liberation Sans", Arial, sans-serif' font-weight="bold" font-size="20.90" fill="#000" textLength="143.22" lengthAdjust="spacingAndGlyphs" stroke="#000" stroke-width="0.41">+2 uM TMPyP4</text>
<text x="832.92" y="699.40" font-family='"Liberation Sans", Arial, sans-serif' font-weight="normal" font-size="99.50" fill="#000" textLength="59.57" lengthAdjust="spacingAndGlyphs">d</text>
<clipPath id="clipd"><rect x="1033.3" y="735.6" width="590.7" height="476.9"/></clipPath>
<g clip-path="url(#clipd)">
<path d="M1033.3,1159.4 L1035.3,1158.9 L1037.3,1158.4 L1039.3,1157.9 L1041.3,1157.5 L1043.3,1157.0 L1045.3,1156.6 L1047.3,1156.2 L1049.3,1155.9 L1051.3,1155.5 L1053.3,1155.1 L1055.3,1154.8 L1057.3,1154.5 L1059.3,1154.2 L1061.3,1153.9 L1063.3,1153.6 L1065.3,1153.4 L1067.3,1153.1 L1069.3,1152.9 L1071.3,1152.6 L1073.3,1152.4 L1075.3,1152.2 L1077.3,1152.0 L1079.3,1151.8 L1081.3,1151.6 L1083.3,1151.4 L1085.3,1151.2 L1087.3,1151.0 L1089.3,1150.8 L1091.3,1150.6 L1093.3,1150.5 L1095.3,1150.3 L1097.3,1150.1 L1099.3,1149.9 L1101.3,1149.8 L1103.3,1149.6 L1105.3,1149.4 L1107.3,1149.2 L1109.3,1149.0 L1111.3,1148.8 L1113.3,1148.6 L1115.3,1148.4 L1117.3,1148.2 L1119.3,1148.0 L1121.3,1147.8 L1123.3,1147.6 L1125.3,1147.3 L1127.3,1147.1 L1129.3,1146.8 L1131.3,1146.6 L1133.3,1146.3 L1135.3,1146.0 L1137.3,1145.7 L1139.3,1145.4 L1141.3,1145.0 L1143.3,1144.7 L1145.3,1144.3 L1147.3,1144.0 L1149.3,1143.6 L1151.3,1143.2 L1153.3,1142.7 L1155.3,1142.3 L1157.3,1141.8 L1159.3,1141.3 L1161.3,1140.8 L1163.3,1140.3 L1165.3,1139.7 L1167.3,1139.1 L1169.3,1138.5 L1171.3,1137.9 L1173.3,1137.3 L1175.3,1136.6 L1177.3,1135.9 L1179.3,1135.2 L1181.3,1134.4 L1183.3,1133.6 L1185.3,1132.8 L1187.3,1131.9 L1189.3,1130.9 L1191.3,1130.0 L1193.3,1128.9 L1195.3,1127.8 L1197.3,1126.6 L1199.3,1125.4 L1201.3,1124.1 L1203.3,1122.7 L1205.3,1121.2 L1207.3,1119.7 L1209.3,1118.0 L1211.3,1116.3 L1213.3,1114.5 L1215.3,1112.5 L1217.3,1110.5 L1219.3,1108.3 L1221.3,1106.0 L1223.3,1103.6 L1225.3,1101.1 L1227.3,1098.5 L1229.3,1095.7 L1231.3,1092.8 L1233.3,1089.8 L1235.3,1086.6 L1237.3,1083.2 L1239.3,1079.5 L1241.3,1075.6 L1243.3,1071.2 L1245.3,1066.4 L1247.3,1061.1 L1249.3,1055.2 L1251.3,1048.6 L1253.3,1041.4 L1255.3,1033.6 L1257.3,1025.3 L1259.3,1016.7 L1261.3,1007.8 L1263.3,998.7 L1265.3,989.6 L1267.3,980.4 L1269.3,971.2 L1271.3,962.0 L1273.3,952.7 L1275.3,943.4 L1277.3,934.0 L1279.3,924.5 L1281.3,915.0 L1283.3,905.5 L1285.3,895.9 L1287.3,886.4 L1289.3,876.9 L1291.3,867.4 L1293.3,858.0 L1295.3,848.7 L1297.3,839.5 L1299.3,830.5 L1301.3,821.6 L1303.3,812.9 L1305.3,804.4 L1307.3,796.2 L1309.3,788.2 L1311.3,780.7 L1313.3,774.0 L1315.3,768.3 L1317.3,763.8 L1319.3,760.5 L1321.3,758.3 L1323.3,757.3 L1325.3,757.4 L1327.3,758.6 L1329.3,760.9 L1331.3,764.2 L1333.3,768.5 L1335.3,773.9 L1337.3,780.2 L1339.3,787.5 L1341.3,795.7 L1343.3,804.7 L1345.3,814.3 L1347.3,824.5 L1349.3,835.1 L1351.3,846.1 L1353.3,857.4 L1355.3,868.7 L1357.3,880.1 L1359.3,891.4 L1361.3,902.6 L1363.3,913.8 L1365.3,924.9 L1367.3,936.1 L1369.3,947.5 L1371.3,959.0 L1373.3,970.8 L1375.3,982.6 L1377.3,994.5 L1379.3,1006.5 L1381.3,1018.4 L1383.3,1030.0 L1385.3,1041.3 L1387.3,1051.8 L1389.3,1061.6 L1391.3,1070.6 L1393.3,1078.8 L1395.3,1086.2 L1397.3,1092.9 L1399.3,1098.9 L1401.3,1104.4 L1403.3,1109.5 L1405.3,1114.4 L1407.3,1119.0 L1409.3,1123.4 L1411.3,1127.5 L1413.3,1131.5 L1415.3,1135.3 L1417.3,1138.8 L1419.3,1142.2 L1421.3,1145.4 L1423.3,1148.4 L1425.3,1151.3 L1427.3,1154.0 L1429.3,1156.5 L1431.3,1158.9 L1433.3,1161.2 L1435.3,1163.3 L1437.3,1165.3 L1439.3,1167.2 L1441.3,1168.9 L1443.3,1170.6 L1445.3,1172.2 L1447.3,1173.6 L1449.3,1175.0 L1451.3,1176.3 L1453.3,1177.6 L1455.3,1178.8 L1457.3,1179.9 L1459.3,1181.0 L1461.3,1182.0 L1463.3,1183.0 L1465.3,1183.9 L1467.3,1184.7 L1469.3,1185.6 L1471.3,1186.4 L1473.3,1187.1 L1475.3,1187.8 L1477.3,1188.5 L1479.3,1189.1 L1481.3,1189.7 L1483.3,1190.3 L1485.3,1190.9 L1487.3,1191.4 L1489.3,1191.9 L1491.3,1192.4 L1493.3,1192.9 L1495.3,1193.3 L1497.3,1193.8 L1499.3,1194.2 L1501.3,1194.6 L1503.3,1195.0 L1505.3,1195.3 L1507.3,1195.7 L1509.3,1196.0 L1511.3,1196.3 L1513.3,1196.7 L1515.3,1196.9 L1517.3,1197.2 L1519.3,1197.5 L1521.3,1197.7 L1523.3,1198.0 L1525.3,1198.2 L1527.3,1198.4 L1529.3,1198.6 L1531.3,1198.8 L1533.3,1199.0 L1535.3,1199.2 L1537.3,1199.3 L1539.3,1199.5 L1541.3,1199.6 L1543.3,1199.7 L1545.3,1199.9 L1547.3,1200.0 L1549.3,1200.1 L1551.3,1200.2 L1553.3,1200.3 L1555.3,1200.4 L1557.3,1200.4 L1559.3,1200.5 L1561.3,1200.6 L1563.3,1200.7 L1565.3,1200.7 L1567.3,1200.8 L1569.3,1200.8 L1571.3,1200.9 L1573.3,1200.9 L1575.3,1201.0 L1577.3,1201.0 L1579.3,1201.0 L1581.3,1201.1 L1583.3,1201.1 L1585.3,1201.1 L1587.3,1201.2 L1589.3,1201.2 L1591.3,1201.2 L1593.3,1201.3 L1595.3,1201.3 L1597.3,1201.3 L1599.3,1201.4 L1601.3,1201.4 L1603.3,1201.5 L1605.3,1201.5 L1607.3,1201.6 L1609.3,1201.6 L1611.3,1201.7 L1613.3,1201.8 L1615.3,1201.8 L1617.3,1201.9 L1619.3,1202.0 L1621.3,1202.1 L1623.3,1202.2" fill="none" stroke="#f24646" stroke-width="5" stroke-linejoin="round" stroke-linecap="butt"/>
<path d="M1033.3,1163.3 L1035.3,1162.9 L1037.3,1162.6 L1039.3,1162.3 L1041.3,1162.0 L1043.3,1161.7 L1045.3,1161.4 L1047.3,1161.1 L1049.3,1160.9 L1051.3,1160.6 L1053.3,1160.4 L1055.3,1160.1 L1057.3,1159.9 L1059.3,1159.7 L1061.3,1159.5 L1063.3,1159.3 L1065.3,1159.1 L1067.3,1158.9 L1069.3,1158.7 L1071.3,1158.5 L1073.3,1158.3 L1075.3,1158.1 L1077.3,1158.0 L1079.3,1157.8 L1081.3,1157.6 L1083.3,1157.5 L1085.3,1157.3 L1087.3,1157.2 L1089.3,1157.0 L1091.3,1156.9 L1093.3,1156.7 L1095.3,1156.6 L1097.3,1156.4 L1099.3,1156.3 L1101.3,1156.1 L1103.3,1156.0 L1105.3,1155.8 L1107.3,1155.7 L1109.3,1155.5 L1111.3,1155.4 L1113.3,1155.2 L1115.3,1155.0 L1117.3,1154.9 L1119.3,1154.7 L1121.3,1154.5 L1123.3,1154.4 L1125.3,1154.2 L1127.3,1154.0 L1129.3,1153.8 L1131.3,1153.6 L1133.3,1153.4 L1135.3,1153.2 L1137.3,1153.0 L1139.3,1152.8 L1141.3,1152.5 L1143.3,1152.3 L1145.3,1152.0 L1147.3,1151.8 L1149.3,1151.5 L1151.3,1151.3 L1153.3,1151.0 L1155.3,1150.7 L1157.3,1150.4 L1159.3,1150.1 L1161.3,1149.7 L1163.3,1149.4 L1165.3,1149.0 L1167.3,1148.7 L1169.3,1148.3 L1171.3,1147.9 L1173.3,1147.5 L1175.3,1147.1 L1177.3,1146.6 L1179.3,1146.2 L1181.3,1145.7 L1183.3,1145.2 L1185.3,1144.7 L1187.3,1144.2 L1189.3,1143.6 L1191.3,1143.0 L1193.3,1142.4 L1195.3,1141.8 L1197.3,1141.1 L1199.3,1140.4 L1201.3,1139.7 L1203.3,1138.9 L1205.3,1138.1 L1207.3,1137.3 L1209.3,1136.4 L1211.3,1135.5 L1213.3,1134.6 L1215.3,1133.6 L1217.3,1132.6 L1219.3,1131.6 L1221.3,1130.5 L1223.3,1129.3 L1225.3,1128.2 L1227.3,1126.9 L1229.3,1125.7 L1231.3,1124.4 L1233.3,1123.0 L1235.3,1121.6 L1237.3,1120.1 L1239.3,1118.5 L1241.3,1116.9 L1243.3,1115.2 L1245.3,1113.3 L1247.3,1111.3 L1249.3,1109.2 L1251.3,1106.9 L1253.3,1104.5 L1255.3,1101.9 L1257.3,1099.1 L1259.3,1096.1 L1261.3,1093.0 L1263.3,1089.6 L1265.3,1086.1 L1267.3,1082.3 L1269.3,1078.3 L1271.3,1073.9 L1273.3,1069.2 L1275.3,1064.1 L1277.3,1058.6 L1279.3,1052.7 L1281.3,1046.3 L1283.3,1039.4 L1285.3,1032.0 L1287.3,1024.0 L1289.3,1015.4 L1291.3,1006.3 L1293.3,996.7 L1295.3,986.8 L1297.3,976.8 L1299.3,966.9 L1301.3,957.3 L1303.3,948.2 L1305.3,939.7 L1307.3,931.9 L1309.3,924.9 L1311.3,918.5 L1313.3,912.9 L1315.3,907.9 L1317.3,903.5 L1319.3,899.7 L1321.3,896.5 L1323.3,893.8 L1325.3,891.6 L1327.3,890.0 L1329.3,888.8 L1331.3,888.1 L1333.3,887.8 L1335.3,887.9 L1337.3,888.4 L1339.3,889.3 L1341.3,890.6 L1343.3,892.2 L1345.3,894.1 L1347.3,896.3 L1349.3,898.7 L1351.3,901.5 L1353.3,904.4 L1355.3,907.6 L1357.3,910.9 L1359.3,914.5 L1361.3,918.2 L1363.3,922.2 L1365.3,926.3 L1367.3,930.5 L1369.3,935.0 L1371.3,939.6 L1373.3,944.3 L1375.3,949.2 L1377.3,954.2 L1379.3,959.3 L1381.3,964.6 L1383.3,970.0 L1385.3,975.5 L1387.3,981.1 L1389.3,986.8 L1391.3,992.5 L1393.3,998.4 L1395.3,1004.3 L1397.3,1010.2 L1399.3,1016.1 L1401.3,1022.1 L1403.3,1028.1 L1405.3,1034.0 L1407.3,1039.9 L1409.3,1045.8 L1411.3,1051.6 L1413.3,1057.4 L1415.3,1063.1 L1417.3,1068.8 L1419.3,1074.4 L1421.3,1079.9 L1423.3,1085.4 L1425.3,1090.8 L1427.3,1096.0 L1429.3,1101.2 L1431.3,1106.3 L1433.3,1111.3 L1435.3,1116.2 L1437.3,1120.9 L1439.3,1125.5 L1441.3,1130.0 L1443.3,1134.4 L1445.3,1138.5 L1447.3,1142.5 L1449.3,1146.3 L1451.3,1150.0 L1453.3,1153.4 L1455.3,1156.5 L1457.3,1159.5 L1459.3,1162.2 L1461.3,1164.8 L1463.3,1167.1 L1465.3,1169.3 L1467.3,1171.2 L1469.3,1173.1 L1471.3,1174.7 L1473.3,1176.3 L1475.3,1177.7 L1477.3,1179.0 L1479.3,1180.2 L1481.3,1181.3 L1483.3,1182.3 L1485.3,1183.2 L1487.3,1184.1 L1489.3,1184.9 L1491.3,1185.7 L1493.3,1186.4 L1495.3,1187.1 L1497.3,1187.8 L1499.3,1188.5 L1501.3,1189.1 L1503.3,1189.7 L1505.3,1190.3 L1507.3,1190.9 L1509.3,1191.4 L1511.3,1191.9 L1513.3,1192.4 L1515.3,1192.8 L1517.3,1193.3 L1519.3,1193.7 L1521.3,1194.1 L1523.3,1194.4 L1525.3,1194.8 L1527.3,1195.1 L1529.3,1195.4 L1531.3,1195.7 L1533.3,1195.9 L1535.3,1196.2 L1537.3,1196.4 L1539.3,1196.6 L1541.3,1196.8 L1543.3,1197.0 L1545.3,1197.1 L1547.3,1197.3 L1549.3,1197.4 L1551.3,1197.5 L1553.3,1197.6 L1555.3,1197.7 L1557.3,1197.8 L1559.3,1197.9 L1561.3,1197.9 L1563.3,1198.0 L1565.3,1198.0 L1567.3,1198.0 L1569.3,1198.0 L1571.3,1198.0 L1573.3,1198.0 L1575.3,1198.0 L1577.3,1198.0 L1579.3,1198.0 L1581.3,1198.0 L1583.3,1197.9 L1585.3,1197.9 L1587.3,1197.9 L1589.3,1197.8 L1591.3,1197.8 L1593.3,1197.7 L1595.3,1197.7 L1597.3,1197.7 L1599.3,1197.6 L1601.3,1197.6 L1603.3,1197.5 L1605.3,1197.5 L1607.3,1197.4 L1609.3,1197.4 L1611.3,1197.3 L1613.3,1197.3 L1615.3,1197.3 L1617.3,1197.3 L1619.3,1197.2 L1621.3,1197.2 L1623.3,1197.2" fill="none" stroke="#f98c42" stroke-width="5" stroke-linejoin="round" stroke-linecap="butt"/>
<path d="M1033.3,1174.6 L1035.3,1174.4 L1037.3,1174.3 L1039.3,1174.1 L1041.3,1173.9 L1043.3,1173.8 L1045.3,1173.6 L1047.3,1173.5 L1049.3,1173.3 L1051.3,1173.2 L1053.3,1173.0 L1055.3,1172.9 L1057.3,1172.7 L1059.3,1172.6 L1061.3,1172.4 L1063.3,1172.3 L1065.3,1172.2 L1067.3,1172.0 L1069.3,1171.9 L1071.3,1171.8 L1073.3,1171.6 L1075.3,1171.5 L1077.3,1171.4 L1079.3,1171.2 L1081.3,1171.1 L1083.3,1171.0 L1085.3,1170.8 L1087.3,1170.7 L1089.3,1170.6 L1091.3,1170.4 L1093.3,1170.3 L1095.3,1170.2 L1097.3,1170.0 L1099.3,1169.9 L1101.3,1169.7 L1103.3,1169.6 L1105.3,1169.4 L1107.3,1169.3 L1109.3,1169.1 L1111.3,1169.0 L1113.3,1168.8 L1115.3,1168.6 L1117.3,1168.5 L1119.3,1168.3 L1121.3,1168.1 L1123.3,1167.9 L1125.3,1167.7 L1127.3,1167.5 L1129.3,1167.3 L1131.3,1167.1 L1133.3,1166.9 L1135.3,1166.7 L1137.3,1166.5 L1139.3,1166.3 L1141.3,1166.1 L1143.3,1165.8 L1145.3,1165.6 L1147.3,1165.3 L1149.3,1165.1 L1151.3,1164.8 L1153.3,1164.5 L1155.3,1164.3 L1157.3,1164.0 L1159.3,1163.7 L1161.3,1163.4 L1163.3,1163.1 L1165.3,1162.8 L1167.3,1162.4 L1169.3,1162.1 L1171.3,1161.8 L1173.3,1161.4 L1175.3,1161.0 L1177.3,1160.7 L1179.3,1160.3 L1181.3,1159.9 L1183.3,1159.4 L1185.3,1159.0 L1187.3,1158.5 L1189.3,1158.1 L1191.3,1157.6 L1193.3,1157.0 L1195.3,1156.5 L1197.3,1155.9 L1199.3,1155.3 L1201.3,1154.7 L1203.3,1154.1 L1205.3,1153.4 L1207.3,1152.7 L1209.3,1151.9 L1211.3,1151.2 L1213.3,1150.4 L1215.3,1149.5 L1217.3,1148.6 L1219.3,1147.7 L1221.3,1146.8 L1223.3,1145.8 L1225.3,1144.8 L1227.3,1143.7 L1229.3,1142.6 L1231.3,1141.4 L1233.3,1140.2 L1235.3,1138.9 L1237.3,1137.6 L1239.3,1136.3 L1241.3,1134.9 L1243.3,1133.4 L1245.3,1131.9 L1247.3,1130.3 L1249.3,1128.5 L1251.3,1126.7 L1253.3,1124.6 L1255.3,1122.3 L1257.3,1119.8 L1259.3,1117.0 L1261.3,1113.9 L1263.3,1110.6 L1265.3,1107.0 L1267.3,1103.3 L1269.3,1099.4 L1271.3,1095.4 L1273.3,1091.3 L1275.3,1087.1 L1277.3,1082.8 L1279.3,1078.4 L1281.3,1073.9 L1283.3,1069.2 L1285.3,1064.4 L1287.3,1059.4 L1289.3,1054.3 L1291.3,1049.0 L1293.3,1043.5 L1295.3,1037.8 L1297.3,1031.9 L1299.3,1025.8 L1301.3,1019.6 L1303.3,1013.3 L1305.3,1007.1 L1307.3,1001.1 L1309.3,995.4 L1311.3,990.1 L1313.3,985.3 L1315.3,980.9 L1317.3,976.9 L1319.3,973.4 L1321.3,970.3 L1323.3,967.6 L1325.3,965.3 L1327.3,963.5 L1329.3,962.0 L1331.3,961.0 L1333.3,960.3 L1335.3,960.0 L1337.3,960.0 L1339.3,960.5 L1341.3,961.3 L1343.3,962.4 L1345.3,963.8 L1347.3,965.6 L1349.3,967.6 L1351.3,969.9 L1353.3,972.5 L1355.3,975.3 L1357.3,978.3 L1359.3,981.5 L1361.3,984.9 L1363.3,988.5 L1365.3,992.2 L1367.3,996.1 L1369.3,1000.1 L1371.3,1004.2 L1373.3,1008.4 L1375.3,1012.6 L1377.3,1016.9 L1379.3,1021.3 L1381.3,1025.6 L1383.3,1029.8 L1385.3,1034.0 L1387.3,1038.1 L1389.3,1042.0 L1391.3,1045.8 L1393.3,1049.3 L1395.3,1052.7 L1397.3,1055.9 L1399.3,1059.2 L1401.3,1062.4 L1403.3,1065.8 L1405.3,1069.3 L1407.3,1073.0 L1409.3,1077.0 L1411.3,1081.2 L1413.3,1085.6 L1415.3,1090.0 L1417.3,1094.5 L1419.3,1098.9 L1421.3,1103.3 L1423.3,1107.7 L1425.3,1111.9 L1427.3,1116.0 L1429.3,1120.1 L1431.3,1124.0 L1433.3,1127.8 L1435.3,1131.5 L1437.3,1135.2 L1439.3,1138.7 L1441.3,1142.0 L1443.3,1145.3 L1445.3,1148.5 L1447.3,1151.5 L1449.3,1154.4 L1451.3,1157.2 L1453.3,1159.8 L1455.3,1162.3 L1457.3,1164.7 L1459.3,1166.9 L1461.3,1169.0 L1463.3,1171.0 L1465.3,1172.8 L1467.3,1174.5 L1469.3,1176.0 L1471.3,1177.4 L1473.3,1178.8 L1475.3,1180.0 L1477.3,1181.1 L1479.3,1182.2 L1481.3,1183.1 L1483.3,1184.0 L1485.3,1184.9 L1487.3,1185.7 L1489.3,1186.4 L1491.3,1187.2 L1493.3,1187.9 L1495.3,1188.6 L1497.3,1189.2 L1499.3,1189.8 L1501.3,1190.4 L1503.3,1191.0 L1505.3,1191.6 L1507.3,1192.1 L1509.3,1192.6 L1511.3,1193.1 L1513.3,1193.6 L1515.3,1194.0 L1517.3,1194.4 L1519.3,1194.8 L1521.3,1195.2 L1523.3,1195.6 L1525.3,1195.9 L1527.3,1196.3 L1529.3,1196.6 L1531.3,1196.9 L1533.3,1197.1 L1535.3,1197.4 L1537.3,1197.6 L1539.3,1197.9 L1541.3,1198.1 L1543.3,1198.3 L1545.3,1198.5 L1547.3,1198.6 L1549.3,1198.8 L1551.3,1198.9 L1553.3,1199.1 L1555.3,1199.2 L1557.3,1199.3 L1559.3,1199.4 L1561.3,1199.5 L1563.3,1199.6 L1565.3,1199.6 L1567.3,1199.7 L1569.3,1199.7 L1571.3,1199.8 L1573.3,1199.8 L1575.3,1199.9 L1577.3,1199.9 L1579.3,1199.9 L1581.3,1199.9 L1583.3,1200.0 L1585.3,1200.0 L1587.3,1200.0 L1589.3,1200.0 L1591.3,1200.0 L1593.3,1200.0 L1595.3,1200.0 L1597.3,1200.0 L1599.3,1200.0 L1601.3,1200.0 L1603.3,1200.0 L1605.3,1200.0 L1607.3,1200.0 L1609.3,1200.0 L1611.3,1200.0 L1613.3,1200.0 L1615.3,1200.0 L1617.3,1200.0 L1619.3,1200.0 L1621.3,1200.0 L1623.3,1200.1" fill="none" stroke="#fafa45" stroke-width="5" stroke-linejoin="round" stroke-linecap="butt"/>
<path d="M1033.3,1183.4 L1035.3,1183.3 L1037.3,1183.2 L1039.3,1183.2 L1041.3,1183.1 L1043.3,1183.0 L1045.3,1183.0 L1047.3,1182.9 L1049.3,1182.8 L1051.3,1182.7 L1053.3,1182.6 L1055.3,1182.5 L1057.3,1182.5 L1059.3,1182.4 L1061.3,1182.3 L1063.3,1182.2 L1065.3,1182.1 L1067.3,1182.0 L1069.3,1181.9 L1071.3,1181.8 L1073.3,1181.7 L1075.3,1181.6 L1077.3,1181.5 L1079.3,1181.4 L1081.3,1181.3 L1083.3,1181.2 L1085.3,1181.0 L1087.3,1180.9 L1089.3,1180.8 L1091.3,1180.7 L1093.3,1180.6 L1095.3,1180.4 L1097.3,1180.3 L1099.3,1180.2 L1101.3,1180.1 L1103.3,1179.9 L1105.3,1179.8 L1107.3,1179.6 L1109.3,1179.5 L1111.3,1179.4 L1113.3,1179.2 L1115.3,1179.1 L1117.3,1178.9 L1119.3,1178.8 L1121.3,1178.6 L1123.3,1178.4 L1125.3,1178.3 L1127.3,1178.1 L1129.3,1178.0 L1131.3,1177.8 L1133.3,1177.6 L1135.3,1177.5 L1137.3,1177.3 L1139.3,1177.1 L1141.3,1176.9 L1143.3,1176.7 L1145.3,1176.6 L1147.3,1176.4 L1149.3,1176.2 L1151.3,1176.0 L1153.3,1175.8 L1155.3,1175.6 L1157.3,1175.4 L1159.3,1175.2 L1161.3,1175.0 L1163.3,1174.8 L1165.3,1174.6 L1167.3,1174.4 L1169.3,1174.1 L1171.3,1173.9 L1173.3,1173.7 L1175.3,1173.5 L1177.3,1173.2 L1179.3,1173.0 L1181.3,1172.8 L1183.3,1172.5 L1185.3,1172.3 L1187.3,1172.0 L1189.3,1171.8 L1191.3,1171.5 L1193.3,1171.2 L1195.3,1170.9 L1197.3,1170.6 L1199.3,1170.3 L1201.3,1169.9 L1203.3,1169.5 L1205.3,1169.1 L1207.3,1168.7 L1209.3,1168.2 L1211.3,1167.7 L1213.3,1167.2 L1215.3,1166.7 L1217.3,1166.1 L1219.3,1165.5 L1221.3,1164.8 L1223.3,1164.1 L1225.3,1163.3 L1227.3,1162.5 L1229.3,1161.7 L1231.3,1160.8 L1233.3,1159.9 L1235.3,1158.9 L1237.3,1157.9 L1239.3,1156.8 L1241.3,1155.6 L1243.3,1154.4 L1245.3,1153.1 L1247.3,1151.8 L1249.3,1150.4 L1251.3,1148.9 L1253.3,1147.4 L1255.3,1145.8 L1257.3,1144.1 L1259.3,1142.4 L1261.3,1140.5 L1263.3,1138.6 L1265.3,1136.5 L1267.3,1134.4 L1269.3,1132.1 L1271.3,1129.6 L1273.3,1127.0 L1275.3,1124.3 L1277.3,1121.3 L1279.3,1118.2 L1281.3,1114.9 L1283.3,1111.5 L1285.3,1108.0 L1287.3,1104.3 L1289.3,1100.5 L1291.3,1096.7 L1293.3,1092.7 L1295.3,1088.7 L1297.3,1084.7 L1299.3,1080.7 L1301.3,1076.7 L1303.3,1072.8 L1305.3,1068.9 L1307.3,1065.2 L1309.3,1061.6 L1311.3,1058.1 L1313.3,1054.9 L1315.3,1051.9 L1317.3,1049.1 L1319.3,1046.6 L1321.3,1044.3 L1323.3,1042.3 L1325.3,1040.5 L1327.3,1039.0 L1329.3,1037.7 L1331.3,1036.6 L1333.3,1035.7 L1335.3,1035.0 L1337.3,1034.5 L1339.3,1034.3 L1341.3,1034.2 L1343.3,1034.3 L1345.3,1034.6 L1347.3,1035.1 L1349.3,1035.7 L1351.3,1036.5 L1353.3,1037.5 L1355.3,1038.6 L1357.3,1039.9 L1359.3,1041.3 L1361.3,1042.8 L1363.3,1044.5 L1365.3,1046.3 L1367.3,1048.2 L1369.3,1050.3 L1371.3,1052.4 L1373.3,1054.6 L1375.3,1056.9 L1377.3,1059.4 L1379.3,1061.9 L1381.3,1064.4 L1383.3,1067.1 L1385.3,1069.8 L1387.3,1072.6 L1389.3,1075.4 L1391.3,1078.2 L1393.3,1081.2 L1395.3,1084.1 L1397.3,1087.1 L1399.3,1090.1 L1401.3,1093.1 L1403.3,1096.1 L1405.3,1099.1 L1407.3,1102.2 L1409.3,1105.2 L1411.3,1108.2 L1413.3,1111.2 L1415.3,1114.2 L1417.3,1117.1 L1419.3,1120.1 L1421.3,1122.9 L1423.3,1125.8 L1425.3,1128.5 L1427.3,1131.3 L1429.3,1134.0 L1431.3,1136.6 L1433.3,1139.2 L1435.3,1141.8 L1437.3,1144.3 L1439.3,1146.8 L1441.3,1149.3 L1443.3,1151.7 L1445.3,1154.1 L1447.3,1156.4 L1449.3,1158.7 L1451.3,1161.0 L1453.3,1163.2 L1455.3,1165.4 L1457.3,1167.5 L1459.3,1169.6 L1461.3,1171.7 L1463.3,1173.7 L1465.3,1175.6 L1467.3,1177.4 L1469.3,1179.1 L1471.3,1180.7 L1473.3,1182.2 L1475.3,1183.6 L1477.3,1184.9 L1479.3,1186.0 L1481.3,1187.0 L1483.3,1187.8 L1485.3,1188.5 L1487.3,1189.1 L1489.3,1189.7 L1491.3,1190.2 L1493.3,1190.8 L1495.3,1191.3 L1497.3,1191.8 L1499.3,1192.2 L1501.3,1192.7 L1503.3,1193.2 L1505.3,1193.6 L1507.3,1194.0 L1509.3,1194.4 L1511.3,1194.8 L1513.3,1195.2 L1515.3,1195.5 L1517.3,1195.8 L1519.3,1196.2 L1521.3,1196.5 L1523.3,1196.8 L1525.3,1197.1 L1527.3,1197.4 L1529.3,1197.6 L1531.3,1197.9 L1533.3,1198.1 L1535.3,1198.3 L1537.3,1198.5 L1539.3,1198.7 L1541.3,1198.9 L1543.3,1199.1 L1545.3,1199.3 L1547.3,1199.5 L1549.3,1199.6 L1551.3,1199.8 L1553.3,1199.9 L1555.3,1200.0 L1557.3,1200.1 L1559.3,1200.2 L1561.3,1200.3 L1563.3,1200.4 L1565.3,1200.5 L1567.3,1200.6 L1569.3,1200.7 L1571.3,1200.7 L1573.3,1200.8 L1575.3,1200.8 L1577.3,1200.9 L1579.3,1200.9 L1581.3,1201.0 L1583.3,1201.0 L1585.3,1201.0 L1587.3,1201.0 L1589.3,1201.0 L1591.3,1201.1 L1593.3,1201.1 L1595.3,1201.1 L1597.3,1201.1 L1599.3,1201.1 L1601.3,1201.1 L1603.3,1201.1 L1605.3,1201.1 L1607.3,1201.1 L1609.3,1201.0 L1611.3,1201.0 L1613.3,1201.0 L1615.3,1201.0 L1617.3,1201.0 L1619.3,1201.0 L1621.3,1201.0 L1623.3,1201.0" fill="none" stroke="#46f046" stroke-width="5" stroke-linejoin="round" stroke-linecap="butt"/>
<path d="M1033.3,1192.8 L1035.3,1192.7 L1037.3,1192.5 L1039.3,1192.4 L1041.3,1192.3 L1043.3,1192.1 L1045.3,1192.0 L1047.3,1191.9 L1049.3,1191.8 L1051.3,1191.7 L1053.3,1191.6 L1055.3,1191.5 L1057.3,1191.4 L1059.3,1191.3 L1061.3,1191.2 L1063.3,1191.1 L1065.3,1191.0 L1067.3,1190.9 L1069.3,1190.9 L1071.3,1190.8 L1073.3,1190.7 L1075.3,1190.7 L1077.3,1190.6 L1079.3,1190.5 L1081.3,1190.5 L1083.3,1190.4 L1085.3,1190.4 L1087.3,1190.3 L1089.3,1190.3 L1091.3,1190.2 L1093.3,1190.2 L1095.3,1190.1 L1097.3,1190.1 L1099.3,1190.0 L1101.3,1190.0 L1103.3,1189.9 L1105.3,1189.9 L1107.3,1189.8 L1109.3,1189.8 L1111.3,1189.7 L1113.3,1189.7 L1115.3,1189.7 L1117.3,1189.6 L1119.3,1189.6 L1121.3,1189.5 L1123.3,1189.4 L1125.3,1189.4 L1127.3,1189.3 L1129.3,1189.3 L1131.3,1189.2 L1133.3,1189.2 L1135.3,1189.1 L1137.3,1189.0 L1139.3,1188.9 L1141.3,1188.9 L1143.3,1188.8 L1145.3,1188.7 L1147.3,1188.6 L1149.3,1188.5 L1151.3,1188.4 L1153.3,1188.3 L1155.3,1188.2 L1157.3,1188.1 L1159.3,1188.0 L1161.3,1187.9 L1163.3,1187.8 L1165.3,1187.7 L1167.3,1187.5 L1169.3,1187.4 L1171.3,1187.3 L1173.3,1187.1 L1175.3,1187.0 L1177.3,1186.8 L1179.3,1186.7 L1181.3,1186.5 L1183.3,1186.3 L1185.3,1186.1 L1187.3,1185.9 L1189.3,1185.7 L1191.3,1185.5 L1193.3,1185.3 L1195.3,1185.1 L1197.3,1184.8 L1199.3,1184.6 L1201.3,1184.3 L1203.3,1184.1 L1205.3,1183.8 L1207.3,1183.5 L1209.3,1183.2 L1211.3,1182.8 L1213.3,1182.5 L1215.3,1182.1 L1217.3,1181.7 L1219.3,1181.3 L1221.3,1180.9 L1223.3,1180.4 L1225.3,1179.9 L1227.3,1179.4 L1229.3,1178.8 L1231.3,1178.3 L1233.3,1177.7 L1235.3,1177.0 L1237.3,1176.4 L1239.3,1175.7 L1241.3,1174.9 L1243.3,1174.2 L1245.3,1173.4 L1247.3,1172.5 L1249.3,1171.7 L1251.3,1170.7 L1253.3,1169.8 L1255.3,1168.8 L1257.3,1167.8 L1259.3,1166.7 L1261.3,1165.6 L1263.3,1164.4 L1265.3,1163.2 L1267.3,1161.9 L1269.3,1160.6 L1271.3,1159.2 L1273.3,1157.8 L1275.3,1156.3 L1277.3,1154.8 L1279.3,1153.2 L1281.3,1151.6 L1283.3,1150.0 L1285.3,1148.3 L1287.3,1146.6 L1289.3,1144.8 L1291.3,1143.0 L1293.3,1141.3 L1295.3,1139.5 L1297.3,1137.7 L1299.3,1135.9 L1301.3,1134.1 L1303.3,1132.3 L1305.3,1130.5 L1307.3,1128.8 L1309.3,1127.1 L1311.3,1125.4 L1313.3,1123.7 L1315.3,1122.1 L1317.3,1120.6 L1319.3,1119.1 L1321.3,1117.6 L1323.3,1116.2 L1325.3,1114.9 L1327.3,1113.7 L1329.3,1112.5 L1331.3,1111.4 L1333.3,1110.4 L1335.3,1109.5 L1337.3,1108.7 L1339.3,1108.0 L1341.3,1107.4 L1343.3,1106.9 L1345.3,1106.5 L1347.3,1106.3 L1349.3,1106.1 L1351.3,1106.0 L1353.3,1106.0 L1355.3,1106.1 L1357.3,1106.3 L1359.3,1106.6 L1361.3,1106.9 L1363.3,1107.4 L1365.3,1107.9 L1367.3,1108.5 L1369.3,1109.2 L1371.3,1109.9 L1373.3,1110.7 L1375.3,1111.6 L1377.3,1112.6 L1379.3,1113.6 L1381.3,1114.7 L1383.3,1115.8 L1385.3,1117.0 L1387.3,1118.2 L1389.3,1119.5 L1391.3,1120.9 L1393.3,1122.3 L1395.3,1123.7 L1397.3,1125.2 L1399.3,1126.7 L1401.3,1128.3 L1403.3,1129.9 L1405.3,1131.5 L1407.3,1133.2 L1409.3,1134.8 L1411.3,1136.6 L1413.3,1138.3 L1415.3,1140.0 L1417.3,1141.8 L1419.3,1143.6 L1421.3,1145.4 L1423.3,1147.2 L1425.3,1149.0 L1427.3,1150.9 L1429.3,1152.7 L1431.3,1154.5 L1433.3,1156.3 L1435.3,1158.1 L1437.3,1159.9 L1439.3,1161.7 L1441.3,1163.5 L1443.3,1165.2 L1445.3,1166.9 L1447.3,1168.6 L1449.3,1170.2 L1451.3,1171.8 L1453.3,1173.4 L1455.3,1174.9 L1457.3,1176.3 L1459.3,1177.7 L1461.3,1179.1 L1463.3,1180.4 L1465.3,1181.7 L1467.3,1182.9 L1469.3,1184.1 L1471.3,1185.2 L1473.3,1186.3 L1475.3,1187.3 L1477.3,1188.2 L1479.3,1189.2 L1481.3,1190.0 L1483.3,1190.9 L1485.3,1191.7 L1487.3,1192.4 L1489.3,1193.1 L1491.3,1193.7 L1493.3,1194.3 L1495.3,1194.9 L1497.3,1195.4 L1499.3,1195.9 L1501.3,1196.4 L1503.3,1196.8 L1505.3,1197.2 L1507.3,1197.5 L1509.3,1197.9 L1511.3,1198.2 L1513.3,1198.4 L1515.3,1198.7 L1517.3,1198.9 L1519.3,1199.1 L1521.3,1199.3 L1523.3,1199.5 L1525.3,1199.6 L1527.3,1199.8 L1529.3,1199.9 L1531.3,1200.0 L1533.3,1200.1 L1535.3,1200.2 L1537.3,1200.3 L1539.3,1200.3 L1541.3,1200.4 L1543.3,1200.5 L1545.3,1200.5 L1547.3,1200.6 L1549.3,1200.6 L1551.3,1200.7 L1553.3,1200.8 L1555.3,1200.8 L1557.3,1200.9 L1559.3,1201.0 L1561.3,1201.0 L1563.3,1201.1 L1565.3,1201.2 L1567.3,1201.3 L1569.3,1201.3 L1571.3,1201.4 L1573.3,1201.5 L1575.3,1201.6 L1577.3,1201.6 L1579.3,1201.7 L1581.3,1201.8 L1583.3,1201.8 L1585.3,1201.9 L1587.3,1202.0 L1589.3,1202.0 L1591.3,1202.1 L1593.3,1202.2 L1595.3,1202.2 L1597.3,1202.3 L1599.3,1202.3 L1601.3,1202.4 L1603.3,1202.4 L1605.3,1202.5 L1607.3,1202.5 L1609.3,1202.5 L1611.3,1202.6 L1613.3,1202.6 L1615.3,1202.6 L1617.3,1202.6 L1619.3,1202.6 L1621.3,1202.6 L1623.3,1202.6" fill="none" stroke="#46a0f5" stroke-width="5" stroke-linejoin="round" stroke-linecap="butt"/>
<path d="M1033.3,1201.2 L1035.3,1201.1 L1037.3,1201.0 L1039.3,1200.9 L1041.3,1200.8 L1043.3,1200.7 L1045.3,1200.6 L1047.3,1200.5 L1049.3,1200.5 L1051.3,1200.4 L1053.3,1200.3 L1055.3,1200.3 L1057.3,1200.2 L1059.3,1200.2 L1061.3,1200.1 L1063.3,1200.1 L1065.3,1200.0 L1067.3,1200.0 L1069.3,1199.9 L1071.3,1199.9 L1073.3,1199.9 L1075.3,1199.9 L1077.3,1199.8 L1079.3,1199.8 L1081.3,1199.8 L1083.3,1199.8 L1085.3,1199.8 L1087.3,1199.8 L1089.3,1199.8 L1091.3,1199.8 L1093.3,1199.8 L1095.3,1199.8 L1097.3,1199.8 L1099.3,1199.8 L1101.3,1199.8 L1103.3,1199.8 L1105.3,1199.8 L1107.3,1199.8 L1109.3,1199.8 L1111.3,1199.8 L1113.3,1199.8 L1115.3,1199.8 L1117.3,1199.8 L1119.3,1199.8 L1121.3,1199.8 L1123.3,1199.8 L1125.3,1199.8 L1127.3,1199.8 L1129.3,1199.8 L1131.3,1199.8 L1133.3,1199.8 L1135.3,1199.8 L1137.3,1199.8 L1139.3,1199.8 L1141.3,1199.8 L1143.3,1199.8 L1145.3,1199.8 L1147.3,1199.7 L1149.3,1199.7 L1151.3,1199.7 L1153.3,1199.7 L1155.3,1199.7 L1157.3,1199.6 L1159.3,1199.6 L1161.3,1199.6 L1163.3,1199.5 L1165.3,1199.5 L1167.3,1199.4 L1169.3,1199.4 L1171.3,1199.3 L1173.3,1199.2 L1175.3,1199.2 L1177.3,1199.1 L1179.3,1199.0 L1181.3,1198.9 L1183.3,1198.9 L1185.3,1198.8 L1187.3,1198.7 L1189.3,1198.6 L1191.3,1198.5 L1193.3,1198.3 L1195.3,1198.2 L1197.3,1198.1 L1199.3,1198.0 L1201.3,1197.8 L1203.3,1197.7 L1205.3,1197.5 L1207.3,1197.4 L1209.3,1197.2 L1211.3,1197.0 L1213.3,1196.9 L1215.3,1196.7 L1217.3,1196.5 L1219.3,1196.3 L1221.3,1196.1 L1223.3,1195.9 L1225.3,1195.7 L1227.3,1195.4 L1229.3,1195.2 L1231.3,1195.0 L1233.3,1194.7 L1235.3,1194.5 L1237.3,1194.2 L1239.3,1193.9 L1241.3,1193.7 L1243.3,1193.4 L1245.3,1193.1 L1247.3,1192.8 L1249.3,1192.5 L1251.3,1192.2 L1253.3,1191.9 L1255.3,1191.6 L1257.3,1191.2 L1259.3,1190.9 L1261.3,1190.5 L1263.3,1190.2 L1265.3,1189.8 L1267.3,1189.4 L1269.3,1189.1 L1271.3,1188.7 L1273.3,1188.3 L1275.3,1187.9 L1277.3,1187.5 L1279.3,1187.0 L1281.3,1186.6 L1283.3,1186.2 L1285.3,1185.7 L1287.3,1185.3 L1289.3,1184.8 L1291.3,1184.4 L1293.3,1183.9 L1295.3,1183.4 L1297.3,1182.9 L1299.3,1182.4 L1301.3,1181.9 L1303.3,1181.3 L1305.3,1180.8 L1307.3,1180.3 L1309.3,1179.7 L1311.3,1179.2 L1313.3,1178.6 L1315.3,1178.0 L1317.3,1177.4 L1319.3,1176.8 L1321.3,1176.2 L1323.3,1175.6 L1325.3,1175.0 L1327.3,1174.4 L1329.3,1173.7 L1331.3,1173.1 L1333.3,1172.4 L1335.3,1171.7 L1337.3,1171.1 L1339.3,1170.4 L1341.3,1169.7 L1343.3,1169.0 L1345.3,1168.3 L1347.3,1167.5 L1349.3,1166.8 L1351.3,1166.1 L1353.3,1165.4 L1355.3,1164.8 L1357.3,1164.2 L1359.3,1163.6 L1361.3,1163.0 L1363.3,1162.5 L1365.3,1162.0 L1367.3,1161.6 L1369.3,1161.2 L1371.3,1160.9 L1373.3,1160.7 L1375.3,1160.5 L1377.3,1160.4 L1379.3,1160.4 L1381.3,1160.5 L1383.3,1160.7 L1385.3,1161.0 L1387.3,1161.3 L1389.3,1161.7 L1391.3,1162.3 L1393.3,1162.8 L1395.3,1163.5 L1397.3,1164.2 L1399.3,1164.9 L1401.3,1165.7 L1403.3,1166.5 L1405.3,1167.4 L1407.3,1168.2 L1409.3,1169.1 L1411.3,1170.1 L1413.3,1171.0 L1415.3,1171.9 L1417.3,1172.9 L1419.3,1173.8 L1421.3,1174.8 L1423.3,1175.7 L1425.3,1176.6 L1427.3,1177.6 L1429.3,1178.5 L1431.3,1179.5 L1433.3,1180.4 L1435.3,1181.3 L1437.3,1182.3 L1439.3,1183.2 L1441.3,1184.1 L1443.3,1185.0 L1445.3,1185.9 L1447.3,1186.7 L1449.3,1187.6 L1451.3,1188.4 L1453.3,1189.2 L1455.3,1190.0 L1457.3,1190.8 L1459.3,1191.6 L1461.3,1192.3 L1463.3,1193.1 L1465.3,1193.8 L1467.3,1194.4 L1469.3,1195.1 L1471.3,1195.7 L1473.3,1196.3 L1475.3,1196.9 L1477.3,1197.4 L1479.3,1197.9 L1481.3,1198.4 L1483.3,1198.8 L1485.3,1199.3 L1487.3,1199.7 L1489.3,1200.1 L1491.3,1200.4 L1493.3,1200.8 L1495.3,1201.1 L1497.3,1201.4 L1499.3,1201.7 L1501.3,1201.9 L1503.3,1202.2 L1505.3,1202.4 L1507.3,1202.6 L1509.3,1202.8 L1511.3,1202.9 L1513.3,1203.1 L1515.3,1203.2 L1517.3,1203.3 L1519.3,1203.4 L1521.3,1203.5 L1523.3,1203.6 L1525.3,1203.7 L1527.3,1203.7 L1529.3,1203.8 L1531.3,1203.8 L1533.3,1203.9 L1535.3,1203.9 L1537.3,1203.9 L1539.3,1203.9 L1541.3,1203.9 L1543.3,1203.9 L1545.3,1203.8 L1547.3,1203.8 L1549.3,1203.8 L1551.3,1203.8 L1553.3,1203.7 L1555.3,1203.7 L1557.3,1203.7 L1559.3,1203.6 L1561.3,1203.6 L1563.3,1203.5 L1565.3,1203.5 L1567.3,1203.5 L1569.3,1203.4 L1571.3,1203.4 L1573.3,1203.4 L1575.3,1203.3 L1577.3,1203.3 L1579.3,1203.3 L1581.3,1203.3 L1583.3,1203.3 L1585.3,1203.3 L1587.3,1203.3 L1589.3,1203.3 L1591.3,1203.3 L1593.3,1203.4 L1595.3,1203.4 L1597.3,1203.5 L1599.3,1203.5 L1601.3,1203.6 L1603.3,1203.7 L1605.3,1203.8 L1607.3,1203.9 L1609.3,1204.1 L1611.3,1204.2 L1613.3,1204.4 L1615.3,1204.6 L1617.3,1204.8 L1619.3,1205.0 L1621.3,1205.2 L1623.3,1205.5" fill="none" stroke="#7846f5" stroke-width="5" stroke-linejoin="round" stroke-linecap="butt"/>
<path d="M1033.3,1202.2 L1035.3,1202.1 L1037.3,1202.0 L1039.3,1201.9 L1041.3,1201.8 L1043.3,1201.7 L1045.3,1201.6 L1047.3,1201.5 L1049.3,1201.4 L1051.3,1201.4 L1053.3,1201.3 L1055.3,1201.2 L1057.3,1201.2 L1059.3,1201.2 L1061.3,1201.1 L1063.3,1201.1 L1065.3,1201.0 L1067.3,1201.0 L1069.3,1201.0 L1071.3,1201.0 L1073.3,1201.0 L1075.3,1201.0 L1077.3,1201.0 L1079.3,1201.0 L1081.3,1201.0 L1083.3,1201.0 L1085.3,1201.0 L1087.3,1201.0 L1089.3,1201.0 L1091.3,1201.0 L1093.3,1201.0 L1095.3,1201.0 L1097.3,1201.1 L1099.3,1201.1 L1101.3,1201.1 L1103.3,1201.2 L1105.3,1201.2 L1107.3,1201.2 L1109.3,1201.2 L1111.3,1201.3 L1113.3,1201.3 L1115.3,1201.4 L1117.3,1201.4 L1119.3,1201.4 L1121.3,1201.5 L1123.3,1201.5 L1125.3,1201.5 L1127.3,1201.6 L1129.3,1201.6 L1131.3,1201.7 L1133.3,1201.7 L1135.3,1201.7 L1137.3,1201.8 L1139.3,1201.8 L1141.3,1201.8 L1143.3,1201.8 L1145.3,1201.9 L1147.3,1201.9 L1149.3,1201.9 L1151.3,1201.9 L1153.3,1202.0 L1155.3,1202.0 L1157.3,1202.0 L1159.3,1202.0 L1161.3,1202.0 L1163.3,1202.0 L1165.3,1202.0 L1167.3,1202.0 L1169.3,1202.0 L1171.3,1202.0 L1173.3,1202.0 L1175.3,1202.0 L1177.3,1202.0 L1179.3,1201.9 L1181.3,1201.9 L1183.3,1201.9 L1185.3,1201.9 L1187.3,1201.8 L1189.3,1201.8 L1191.3,1201.7 L1193.3,1201.6 L1195.3,1201.6 L1197.3,1201.5 L1199.3,1201.4 L1201.3,1201.4 L1203.3,1201.3 L1205.3,1201.2 L1207.3,1201.1 L1209.3,1201.0 L1211.3,1200.9 L1213.3,1200.8 L1215.3,1200.7 L1217.3,1200.5 L1219.3,1200.4 L1221.3,1200.3 L1223.3,1200.2 L1225.3,1200.0 L1227.3,1199.9 L1229.3,1199.7 L1231.3,1199.6 L1233.3,1199.4 L1235.3,1199.3 L1237.3,1199.1 L1239.3,1199.0 L1241.3,1198.8 L1243.3,1198.6 L1245.3,1198.4 L1247.3,1198.3 L1249.3,1198.1 L1251.3,1197.9 L1253.3,1197.7 L1255.3,1197.5 L1257.3,1197.3 L1259.3,1197.1 L1261.3,1196.9 L1263.3,1196.7 L1265.3,1196.5 L1267.3,1196.2 L1269.3,1196.0 L1271.3,1195.8 L1273.3,1195.6 L1275.3,1195.3 L1277.3,1195.1 L1279.3,1194.9 L1281.3,1194.6 L1283.3,1194.4 L1285.3,1194.2 L1287.3,1193.9 L1289.3,1193.7 L1291.3,1193.4 L1293.3,1193.2 L1295.3,1192.9 L1297.3,1192.6 L1299.3,1192.4 L1301.3,1192.1 L1303.3,1191.9 L1305.3,1191.6 L1307.3,1191.3 L1309.3,1191.0 L1311.3,1190.8 L1313.3,1190.5 L1315.3,1190.2 L1317.3,1189.9 L1319.3,1189.7 L1321.3,1189.4 L1323.3,1189.1 L1325.3,1188.8 L1327.3,1188.5 L1329.3,1188.2 L1331.3,1187.9 L1333.3,1187.6 L1335.3,1187.4 L1337.3,1187.1 L1339.3,1186.8 L1341.3,1186.5 L1343.3,1186.2 L1345.3,1185.9 L1347.3,1185.6 L1349.3,1185.3 L1351.3,1185.0 L1353.3,1184.7 L1355.3,1184.4 L1357.3,1184.1 L1359.3,1183.9 L1361.3,1183.6 L1363.3,1183.4 L1365.3,1183.1 L1367.3,1182.9 L1369.3,1182.7 L1371.3,1182.5 L1373.3,1182.3 L1375.3,1182.1 L1377.3,1182.0 L1379.3,1181.9 L1381.3,1181.8 L1383.3,1181.7 L1385.3,1181.6 L1387.3,1181.6 L1389.3,1181.5 L1391.3,1181.5 L1393.3,1181.6 L1395.3,1181.6 L1397.3,1181.7 L1399.3,1181.9 L1401.3,1182.0 L1403.3,1182.2 L1405.3,1182.4 L1407.3,1182.7 L1409.3,1182.9 L1411.3,1183.3 L1413.3,1183.6 L1415.3,1184.0 L1417.3,1184.5 L1419.3,1184.9 L1421.3,1185.4 L1423.3,1185.9 L1425.3,1186.5 L1427.3,1187.0 L1429.3,1187.6 L1431.3,1188.2 L1433.3,1188.8 L1435.3,1189.4 L1437.3,1190.0 L1439.3,1190.6 L1441.3,1191.2 L1443.3,1191.8 L1445.3,1192.4 L1447.3,1193.0 L1449.3,1193.6 L1451.3,1194.2 L1453.3,1194.7 L1455.3,1195.3 L1457.3,1195.8 L1459.3,1196.3 L1461.3,1196.8 L1463.3,1197.3 L1465.3,1197.8 L1467.3,1198.2 L1469.3,1198.7 L1471.3,1199.1 L1473.3,1199.5 L1475.3,1199.9 L1477.3,1200.3 L1479.3,1200.6 L1481.3,1201.0 L1483.3,1201.3 L1485.3,1201.6 L1487.3,1201.9 L1489.3,1202.2 L1491.3,1202.4 L1493.3,1202.7 L1495.3,1202.9 L1497.3,1203.1 L1499.3,1203.3 L1501.3,1203.5 L1503.3,1203.7 L1505.3,1203.9 L1507.3,1204.0 L1509.3,1204.2 L1511.3,1204.3 L1513.3,1204.4 L1515.3,1204.5 L1517.3,1204.6 L1519.3,1204.7 L1521.3,1204.8 L1523.3,1204.9 L1525.3,1204.9 L1527.3,1205.0 L1529.3,1205.0 L1531.3,1205.1 L1533.3,1205.1 L1535.3,1205.1 L1537.3,1205.2 L1539.3,1205.2 L1541.3,1205.2 L1543.3,1205.2 L1545.3,1205.2 L1547.3,1205.2 L1549.3,1205.2 L1551.3,1205.2 L1553.3,1205.2 L1555.3,1205.2 L1557.3,1205.1 L1559.3,1205.1 L1561.3,1205.1 L1563.3,1205.1 L1565.3,1205.1 L1567.3,1205.0 L1569.3,1205.0 L1571.3,1205.0 L1573.3,1205.0 L1575.3,1205.0 L1577.3,1204.9 L1579.3,1204.9 L1581.3,1204.9 L1583.3,1204.9 L1585.3,1204.9 L1587.3,1204.9 L1589.3,1204.9 L1591.3,1204.9 L1593.3,1204.9 L1595.3,1204.9 L1597.3,1205.0 L1599.3,1205.0 L1601.3,1205.0 L1603.3,1205.1 L1605.3,1205.1 L1607.3,1205.2 L1609.3,1205.2 L1611.3,1205.3 L1613.3,1205.4 L1615.3,1205.5 L1617.3,1205.6 L1619.3,1205.7 L1621.3,1205.8 L1623.3,1206.0" fill="none" stroke="#b446f5" stroke-width="5" stroke-linejoin="round" stroke-linecap="butt"/>
<path d="M1033.3,1206.7 L1035.3,1206.7 L1037.3,1206.6 L1039.3,1206.5 L1041.3,1206.5 L1043.3,1206.4 L1045.3,1206.4 L1047.3,1206.4 L1049.3,1206.3 L1051.3,1206.3 L1053.3,1206.2 L1055.3,1206.2 L1057.3,1206.2 L1059.3,1206.2 L1061.3,1206.1 L1063.3,1206.1 L1065.3,1206.1 L1067.3,1206.1 L1069.3,1206.1 L1071.3,1206.1 L1073.3,1206.0 L1075.3,1206.0 L1077.3,1206.0 L1079.3,1206.0 L1081.3,1206.0 L1083.3,1206.0 L1085.3,1206.0 L1087.3,1206.0 L1089.3,1206.0 L1091.3,1206.0 L1093.3,1206.1 L1095.3,1206.1 L1097.3,1206.1 L1099.3,1206.1 L1101.3,1206.1 L1103.3,1206.1 L1105.3,1206.1 L1107.3,1206.1 L1109.3,1206.1 L1111.3,1206.2 L1113.3,1206.2 L1115.3,1206.2 L1117.3,1206.2 L1119.3,1206.2 L1121.3,1206.2 L1123.3,1206.2 L1125.3,1206.2 L1127.3,1206.3 L1129.3,1206.3 L1131.3,1206.3 L1133.3,1206.3 L1135.3,1206.3 L1137.3,1206.3 L1139.3,1206.3 L1141.3,1206.3 L1143.3,1206.3 L1145.3,1206.3 L1147.3,1206.3 L1149.3,1206.3 L1151.3,1206.3 L1153.3,1206.3 L1155.3,1206.3 L1157.3,1206.3 L1159.3,1206.3 L1161.3,1206.3 L1163.3,1206.3 L1165.3,1206.3 L1167.3,1206.2 L1169.3,1206.2 L1171.3,1206.2 L1173.3,1206.2 L1175.3,1206.1 L1177.3,1206.1 L1179.3,1206.1 L1181.3,1206.0 L1183.3,1206.0 L1185.3,1205.9 L1187.3,1205.9 L1189.3,1205.8 L1191.3,1205.8 L1193.3,1205.7 L1195.3,1205.7 L1197.3,1205.6 L1199.3,1205.5 L1201.3,1205.5 L1203.3,1205.4 L1205.3,1205.3 L1207.3,1205.2 L1209.3,1205.1 L1211.3,1205.1 L1213.3,1205.0 L1215.3,1204.9 L1217.3,1204.8 L1219.3,1204.7 L1221.3,1204.6 L1223.3,1204.5 L1225.3,1204.4 L1227.3,1204.3 L1229.3,1204.2 L1231.3,1204.0 L1233.3,1203.9 L1235.3,1203.8 L1237.3,1203.7 L1239.3,1203.6 L1241.3,1203.5 L1243.3,1203.3 L1245.3,1203.2 L1247.3,1203.1 L1249.3,1203.0 L1251.3,1202.9 L1253.3,1202.7 L1255.3,1202.6 L1257.3,1202.5 L1259.3,1202.4 L1261.3,1202.2 L1263.3,1202.1 L1265.3,1202.0 L1267.3,1201.8 L1269.3,1201.7 L1271.3,1201.6 L1273.3,1201.5 L1275.3,1201.3 L1277.3,1201.2 L1279.3,1201.1 L1281.3,1200.9 L1283.3,1200.8 L1285.3,1200.7 L1287.3,1200.6 L1289.3,1200.4 L1291.3,1200.3 L1293.3,1200.2 L1295.3,1200.1 L1297.3,1199.9 L1299.3,1199.8 L1301.3,1199.7 L1303.3,1199.6 L1305.3,1199.5 L1307.3,1199.4 L1309.3,1199.2 L1311.3,1199.1 L1313.3,1199.0 L1315.3,1198.9 L1317.3,1198.8 L1319.3,1198.7 L1321.3,1198.6 L1323.3,1198.5 L1325.3,1198.4 L1327.3,1198.3 L1329.3,1198.2 L1331.3,1198.1 L1333.3,1198.0 L1335.3,1198.0 L1337.3,1197.9 L1339.3,1197.8 L1341.3,1197.7 L1343.3,1197.7 L1345.3,1197.6 L1347.3,1197.5 L1349.3,1197.5 L1351.3,1197.4 L1353.3,1197.4 L1355.3,1197.3 L1357.3,1197.3 L1359.3,1197.2 L1361.3,1197.2 L1363.3,1197.2 L1365.3,1197.1 L1367.3,1197.1 L1369.3,1197.1 L1371.3,1197.1 L1373.3,1197.1 L1375.3,1197.1 L1377.3,1197.1 L1379.3,1197.1 L1381.3,1197.1 L1383.3,1197.2 L1385.3,1197.2 L1387.3,1197.2 L1389.3,1197.3 L1391.3,1197.3 L1393.3,1197.4 L1395.3,1197.4 L1397.3,1197.5 L1399.3,1197.6 L1401.3,1197.7 L1403.3,1197.8 L1405.3,1197.9 L1407.3,1198.0 L1409.3,1198.1 L1411.3,1198.2 L1413.3,1198.3 L1415.3,1198.4 L1417.3,1198.6 L1419.3,1198.7 L1421.3,1198.8 L1423.3,1199.0 L1425.3,1199.1 L1427.3,1199.3 L1429.3,1199.4 L1431.3,1199.6 L1433.3,1199.7 L1435.3,1199.9 L1437.3,1200.1 L1439.3,1200.2 L1441.3,1200.4 L1443.3,1200.6 L1445.3,1200.8 L1447.3,1200.9 L1449.3,1201.1 L1451.3,1201.3 L1453.3,1201.5 L1455.3,1201.7 L1457.3,1201.9 L1459.3,1202.0 L1461.3,1202.2 L1463.3,1202.4 L1465.3,1202.6 L1467.3,1202.8 L1469.3,1203.0 L1471.3,1203.1 L1473.3,1203.3 L1475.3,1203.5 L1477.3,1203.7 L1479.3,1203.8 L1481.3,1204.0 L1483.3,1204.2 L1485.3,1204.4 L1487.3,1204.5 L1489.3,1204.7 L1491.3,1204.8 L1493.3,1205.0 L1495.3,1205.2 L1497.3,1205.3 L1499.3,1205.5 L1501.3,1205.6 L1503.3,1205.8 L1505.3,1205.9 L1507.3,1206.0 L1509.3,1206.2 L1511.3,1206.3 L1513.3,1206.4 L1515.3,1206.6 L1517.3,1206.7 L1519.3,1206.8 L1521.3,1206.9 L1523.3,1207.0 L1525.3,1207.1 L1527.3,1207.3 L1529.3,1207.4 L1531.3,1207.5 L1533.3,1207.6 L1535.3,1207.6 L1537.3,1207.7 L1539.3,1207.8 L1541.3,1207.9 L1543.3,1208.0 L1545.3,1208.0 L1547.3,1208.1 L1549.3,1208.2 L1551.3,1208.2 L1553.3,1208.3 L1555.3,1208.3 L1557.3,1208.4 L1559.3,1208.4 L1561.3,1208.5 L1563.3,1208.5 L1565.3,1208.5 L1567.3,1208.5 L1569.3,1208.6 L1571.3,1208.6 L1573.3,1208.6 L1575.3,1208.6 L1577.3,1208.6 L1579.3,1208.6 L1581.3,1208.6 L1583.3,1208.6 L1585.3,1208.5 L1587.3,1208.5 L1589.3,1208.5 L1591.3,1208.4 L1593.3,1208.4 L1595.3,1208.3 L1597.3,1208.3 L1599.3,1208.2 L1601.3,1208.2 L1603.3,1208.1 L1605.3,1208.0 L1607.3,1207.9 L1609.3,1207.8 L1611.3,1207.7 L1613.3,1207.6 L1615.3,1207.5 L1617.3,1207.4 L1619.3,1207.3 L1621.3,1207.2 L1623.3,1207.0" fill="none" stroke="#f0aaf5" stroke-width="5" stroke-linejoin="round" stroke-linecap="butt"/>
</g>
<rect x="1033.3" y="735.6" width="590.7" height="476.9" fill="none" stroke="#000" stroke-width="3"/>
<line x1="1024.80" y1="1212.50" x2="1033.30" y2="1212.50" stroke="#000" stroke-width="3" stroke-linecap="butt"/>
<line x1="1024.80" y1="1106.50" x2="1033.30" y2="1106.50" stroke="#000" stroke-width="3" stroke-linecap="butt"/>
<line x1="1024.80" y1="1000.50" x2="1033.30" y2="1000.50" stroke="#000" stroke-width="3" stroke-linecap="butt"/>
<line x1="1024.80" y1="894.50" x2="1033.30" y2="894.50" stroke="#000" stroke-width="3" stroke-linecap="butt"/>
<line x1="1024.80" y1="788.50" x2="1033.30" y2="788.50" stroke="#000" stroke-width="3" stroke-linecap="butt"/>
<line x1="1029.30" y1="735.60" x2="1033.30" y2="735.60" stroke="#000" stroke-width="3" stroke-linecap="butt"/>
<line x1="1029.30" y1="1159.50" x2="1033.30" y2="1159.50" stroke="#000" stroke-width="3" stroke-linecap="butt"/>
<line x1="1029.30" y1="1053.50" x2="1033.30" y2="1053.50" stroke="#000" stroke-width="3" stroke-linecap="butt"/>
<line x1="1029.30" y1="947.50" x2="1033.30" y2="947.50" stroke="#000" stroke-width="3" stroke-linecap="butt"/>
<line x1="1029.30" y1="841.50" x2="1033.30" y2="841.50" stroke="#000" stroke-width="3" stroke-linecap="butt"/>
<line x1="1033.30" y1="1212.50" x2="1033.30" y2="1221.50" stroke="#000" stroke-width="3" stroke-linecap="butt"/>
<line x1="1230.20" y1="1212.50" x2="1230.20" y2="1221.50" stroke="#000" stroke-width="3" stroke-linecap="butt"/>
<line x1="1427.10" y1="1212.50" x2="1427.10" y2="1221.50" stroke="#000" stroke-width="3" stroke-linecap="butt"/>
<line x1="1624.00" y1="1212.50" x2="1624.00" y2="1221.50" stroke="#000" stroke-width="3" stroke-linecap="butt"/>
<line x1="1131.75" y1="1212.50" x2="1131.75" y2="1217.50" stroke="#000" stroke-width="3" stroke-linecap="butt"/>
<line x1="1328.65" y1="1212.50" x2="1328.65" y2="1217.50" stroke="#000" stroke-width="3" stroke-linecap="butt"/>
<line x1="1525.55" y1="1212.50" x2="1525.55" y2="1217.50" stroke="#000" stroke-width="3" stroke-linecap="butt"/>
<text x="979.27" y="1221.70" font-family='"Liberation Sans", Arial, sans-serif' font-weight="bold" font-size="31.00" fill="#000" textLength="39.16" lengthAdjust="spacingAndGlyphs" stroke="#000" stroke-width="0.50">0.0</text>
<text x="979.29" y="1115.70" font-family='"Liberation Sans", Arial, sans-serif' font-weight="bold" font-size="31.00" fill="#000" textLength="38.71" lengthAdjust="spacingAndGlyphs" stroke="#000" stroke-width="0.50">0.5</text>
<text x="981.93" y="1009.70" font-family='"Liberation Sans", Arial, sans-serif' font-weight="bold" font-size="31.00" fill="#000" textLength="36.42" lengthAdjust="spacingAndGlyphs" stroke="#000" stroke-width="0.50">1.0</text>
<text x="981.95" y="903.70" font-family='"Liberation Sans", Arial, sans-serif' font-weight="bold" font-size="31.00" fill="#000" textLength="36.01" lengthAdjust="spacingAndGlyphs" stroke="#000" stroke-width="0.50">1.5</text>
<text x="979.42" y="797.70" font-family='"Liberation Sans", Arial, sans-serif' font-weight="bold" font-size="31.00" fill="#000" textLength="39.01" lengthAdjust="spacingAndGlyphs" stroke="#000" stroke-width="0.50">2.0</text>
<text x="1009.89" y="1252.20" font-family='"Liberation Sans", Arial, sans-serif' font-weight="bold" font-size="31.00" fill="#000" textLength="47.34" lengthAdjust="spacingAndGlyphs" stroke="#000" stroke-width="0.50">350</text>
<text x="1207.08" y="1252.20" font-family='"Liberation Sans", Arial, sans-serif' font-weight="bold" font-size="31.00" fill="#000" textLength="47.05" lengthAdjust="spacingAndGlyphs" stroke="#000" stroke-width="0.50">400</text>
<text x="1403.98" y="1252.20" font-family='"Liberation Sans", Arial, sans-serif' font-weight="bold" font-size="31.00" fill="#000" textLength="47.05" lengthAdjust="spacingAndGlyphs" stroke="#000" stroke-width="0.50">450</text>
<text x="1600.45" y="1252.20" font-family='"Liberation Sans", Arial, sans-serif' font-weight="bold" font-size="31.00" fill="#000" textLength="47.49" lengthAdjust="spacingAndGlyphs" stroke="#000" stroke-width="0.50">500</text>
<text x="1180.80" y="1311.00" font-family='"Liberation Sans", Arial, sans-serif' font-weight="bold" font-size="40.50" fill="#000" textLength="297.31" lengthAdjust="spacingAndGlyphs" stroke="#000" stroke-width="0.57">Wavelength (nm)</text>
<text transform="translate(949.40,1066.00) rotate(-90)" x="-1.01" y="0" font-family='"Liberation Sans", Arial, sans-serif' font-weight="bold" font-size="38.20" fill="#000" textLength="232.69" lengthAdjust="spacingAndGlyphs" stroke="#000" stroke-width="0.56">Absorbance</text>
<line x1="1047.30" y1="763.20" x2="1071.80" y2="763.20" stroke="#f24646" stroke-width="5.3" stroke-linecap="round"/>
<text x="1078.44" y="766.50" font-family='"Liberation Sans", Arial, sans-serif' font-weight="bold" font-size="22.70" fill="#000" textLength="158.72" lengthAdjust="spacingAndGlyphs" stroke="#000" stroke-width="0.43">10 uM TMPyP4</text>
<line x1="1047.30" y1="794.20" x2="1071.80" y2="794.20" stroke="#f98c42" stroke-width="5.3" stroke-linecap="round"/>
<text x="1078.90" y="797.50" font-family='"Liberation Sans", Arial, sans-serif' font-weight="bold" font-size="22.70" fill="#000" textLength="171.04" lengthAdjust="spacingAndGlyphs" stroke="#000" stroke-width="0.43">+10 uM TMPyP4</text>
<line x1="1047.30" y1="825.20" x2="1071.80" y2="825.20" stroke="#fafa45" stroke-width="5.3" stroke-linecap="round"/>
<text x="1078.90" y="828.50" font-family='"Liberation Sans", Arial, sans-serif' font-weight="bold" font-size="22.70" fill="#000" textLength="158.62" lengthAdjust="spacingAndGlyphs" stroke="#000" stroke-width="0.43">+8 uM TMPyP4</text>
<line x1="1047.30" y1="856.20" x2="1071.80" y2="856.20" stroke="#46f046" stroke-width="5.3" stroke-linecap="round"/>
<text x="1078.90" y="859.50" font-family='"Liberation Sans", Arial, sans-serif' font-weight="bold" font-size="22.70" fill="#000" textLength="158.62" lengthAdjust="spacingAndGlyphs" stroke="#000" stroke-width="0.43">+6 uM TMPyP4</text>
<line x1="1047.30" y1="887.20" x2="1071.80" y2="887.20" stroke="#46a0f5" stroke-width="5.3" stroke-linecap="round"/>
<text x="1078.90" y="890.50" font-family='"Liberation Sans", Arial, sans-serif' font-weight="bold" font-size="22.70" fill="#000" textLength="158.62" lengthAdjust="spacingAndGlyphs" stroke="#000" stroke-width="0.43">+4 uM TMPyP4</text>
<line x1="1047.30" y1="918.20" x2="1071.80" y2="918.20" stroke="#7846f5" stroke-width="5.3" stroke-linecap="round"/>
<text x="1078.90" y="921.50" font-family='"Liberation Sans", Arial, sans-serif' font-weight="bold" font-size="22.70" fill="#000" textLength="158.62" lengthAdjust="spacingAndGlyphs" stroke="#000" stroke-width="0.43">+2 uM TMPyP4</text>
<line x1="1047.30" y1="949.20" x2="1071.80" y2="949.20" stroke="#b446f5" stroke-width="5.3" stroke-linecap="round"/>
<text x="1078.90" y="952.50" font-family='"Liberation Sans", Arial, sans-serif' font-weight="bold" font-size="22.70" fill="#000" textLength="158.62" lengthAdjust="spacingAndGlyphs" stroke="#000" stroke-width="0.43">+1 uM TMPyP4</text>
<line x1="1047.30" y1="980.20" x2="1071.80" y2="980.20" stroke="#f0aaf5" stroke-width="5.3" stroke-linecap="round"/>
<text x="1079.57" y="983.50" font-family='"Liberation Sans", Arial, sans-serif' font-weight="bold" font-size="22.70" fill="#000" textLength="131.70" lengthAdjust="spacingAndGlyphs" stroke="#000" stroke-width="0.43">TdT product</text>
<line x1="1324.00" y1="756.70" x2="1350.00" y2="756.70" stroke="#000" stroke-width="3" stroke-linecap="butt"/>
<polygon points="1345.5,750.5 1365.5,756.7 1345.5,762.9" fill="#000"/>
<text x="1371.26" y="767.00" font-family='"Liberation Sans", Arial, sans-serif' font-weight="bold" font-size="23.50" fill="#000" textLength="78.85" lengthAdjust="spacingAndGlyphs" stroke="#000" stroke-width="0.44">423 nm</text>
<text x="1411.11" y="829.90" font-family='"Liberation Sans", Arial, sans-serif' font-weight="bold" font-size="24.50" fill="#000" textLength="123.31" lengthAdjust="spacingAndGlyphs" stroke="#000" stroke-width="0.45">Decreasing</text>
<text x="1424.68" y="860.50" font-family='"Liberation Sans", Arial, sans-serif' font-weight="bold" font-size="24.50" fill="#000" textLength="86.74" lengthAdjust="spacingAndGlyphs" stroke="#000" stroke-width="0.45">TMPyP4</text>
<line x1="1468.10" y1="871.40" x2="1468.10" y2="1090.00" stroke="#000" stroke-width="2.6" stroke-linecap="butt"/>
<polygon points="1462.4,1087.5 1473.8,1087.5 1468.1,1109.1" fill="#000"/>
<text x="1448.76" y="1133.10" font-family='"Liberation Sans", Arial, sans-serif' font-weight="bold" font-size="23.50" fill="#000" textLength="78.95" lengthAdjust="spacingAndGlyphs" stroke="#000" stroke-width="0.44">439 nm</text>
<line x1="1390.90" y1="1196.00" x2="1440.00" y2="1143.00" stroke="#000" stroke-width="3.2" stroke-linecap="butt"/>
<polygon points="1450.5,1132.4 1434.5,1139.2 1443.6,1148.2" fill="#000"/>
</svg></body></html>
